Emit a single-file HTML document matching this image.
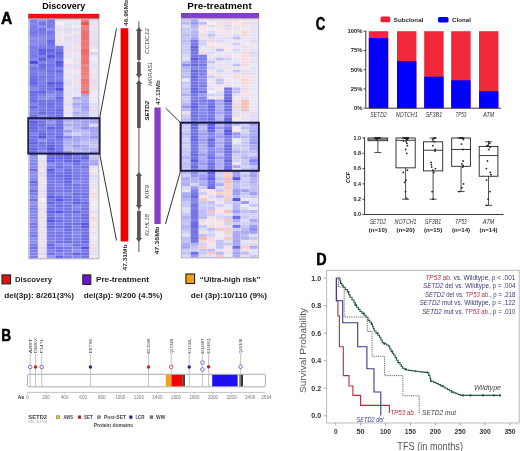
<!DOCTYPE html>
<html><head><meta charset="utf-8"><style>
html,body{margin:0;padding:0;background:#fff;}
body{width:520px;height:451px;overflow:hidden;}
svg{display:block;filter:blur(0.45px);font-family:"Liberation Sans", sans-serif;}
</style></head><body>
<svg width="520" height="451" viewBox="0 0 520 451">
<defs><filter id="soft" x="-5%" y="-5%" width="110%" height="110%"><feGaussianBlur stdDeviation="0.45"/></filter></defs>
<rect x="0" y="0" width="520" height="451" fill="#fff"/>
<text x="1.10" y="24.10" font-size="17.2" fill="#000" font-weight="bold" textLength="11.30" lengthAdjust="spacingAndGlyphs" stroke="#000" stroke-width="0.5">A</text>
<text x="42.20" y="8.70" font-size="9" fill="#000" font-weight="bold" textLength="43.00" lengthAdjust="spacingAndGlyphs">Discovery</text>
<rect x="28.20" y="13.80" width="71.00" height="5.20" fill="#e8141c"/>
<g filter="url(#soft)">
<rect x="29.50" y="19.00" width="8.61" height="3.04" fill="#7f7feb"/>
<rect x="29.50" y="21.99" width="8.61" height="3.04" fill="#8787eb"/>
<rect x="29.50" y="24.99" width="8.61" height="3.04" fill="#7f7feb"/>
<rect x="29.50" y="27.98" width="8.61" height="3.04" fill="#7e7eeb"/>
<rect x="29.50" y="30.98" width="8.61" height="3.04" fill="#7777eb"/>
<rect x="29.50" y="33.97" width="8.61" height="3.04" fill="#7f7feb"/>
<rect x="29.50" y="36.96" width="8.61" height="3.04" fill="#8e8eeb"/>
<rect x="29.50" y="39.96" width="8.61" height="3.04" fill="#8686eb"/>
<rect x="29.50" y="42.95" width="8.61" height="3.04" fill="#8d8deb"/>
<rect x="29.50" y="45.94" width="8.61" height="3.04" fill="#7878e8"/>
<rect x="29.50" y="48.94" width="8.61" height="3.04" fill="#8080eb"/>
<rect x="29.50" y="51.93" width="8.61" height="3.04" fill="#7c7cea"/>
<rect x="29.50" y="54.92" width="8.61" height="3.04" fill="#7878e8"/>
<rect x="29.50" y="57.92" width="8.61" height="3.04" fill="#8686ed"/>
<rect x="29.50" y="60.91" width="8.61" height="3.04" fill="#4a4adf"/>
<rect x="29.50" y="63.91" width="8.61" height="3.04" fill="#8989ee"/>
<rect x="29.50" y="66.90" width="8.61" height="3.04" fill="#7474e7"/>
<rect x="29.50" y="69.89" width="8.61" height="3.04" fill="#7c7cea"/>
<rect x="29.50" y="72.89" width="8.61" height="3.04" fill="#7979e9"/>
<rect x="29.50" y="75.88" width="8.61" height="3.04" fill="#6f6fe5"/>
<rect x="29.50" y="78.88" width="8.61" height="3.04" fill="#6b6be4"/>
<rect x="29.50" y="81.87" width="8.61" height="3.04" fill="#6363eb"/>
<rect x="29.50" y="84.86" width="8.61" height="3.04" fill="#7a7ae9"/>
<rect x="29.50" y="87.86" width="8.61" height="3.04" fill="#8787ed"/>
<rect x="29.50" y="90.85" width="8.61" height="3.04" fill="#6a6ae4"/>
<rect x="29.50" y="93.84" width="8.61" height="3.04" fill="#6f6fe5"/>
<rect x="29.50" y="96.84" width="8.61" height="3.04" fill="#7373e7"/>
<rect x="29.50" y="99.83" width="8.61" height="3.04" fill="#6d6de5"/>
<rect x="29.50" y="102.83" width="8.61" height="3.04" fill="#8383ec"/>
<rect x="29.50" y="105.82" width="8.61" height="3.04" fill="#6868e3"/>
<rect x="29.50" y="108.81" width="8.61" height="3.04" fill="#7f7feb"/>
<rect x="29.50" y="111.81" width="8.61" height="3.04" fill="#7e7eea"/>
<rect x="29.50" y="114.80" width="8.61" height="3.04" fill="#7272e6"/>
<rect x="29.50" y="117.79" width="8.61" height="3.04" fill="#7676e8"/>
<rect x="29.50" y="120.79" width="8.61" height="3.04" fill="#6060e0"/>
<rect x="29.50" y="123.78" width="8.61" height="3.04" fill="#6b6be4"/>
<rect x="29.50" y="126.77" width="8.61" height="3.04" fill="#6868e3"/>
<rect x="29.50" y="129.77" width="8.61" height="3.04" fill="#6d6de5"/>
<rect x="29.50" y="132.76" width="8.61" height="3.04" fill="#8282ec"/>
<rect x="29.50" y="135.76" width="8.61" height="3.04" fill="#7171e6"/>
<rect x="29.50" y="138.75" width="8.61" height="3.04" fill="#7070e6"/>
<rect x="29.50" y="141.74" width="8.61" height="3.04" fill="#6565e2"/>
<rect x="29.50" y="144.74" width="8.61" height="3.04" fill="#7373e7"/>
<rect x="29.50" y="147.73" width="8.61" height="3.04" fill="#6363eb"/>
<rect x="29.50" y="150.72" width="8.61" height="3.04" fill="#6e6ee5"/>
<rect x="29.50" y="153.72" width="8.61" height="3.04" fill="#8383eb"/>
<rect x="29.50" y="156.71" width="8.61" height="3.04" fill="#9393eb"/>
<rect x="29.50" y="159.71" width="8.61" height="3.04" fill="#8888eb"/>
<rect x="29.50" y="162.70" width="8.61" height="3.04" fill="#8787eb"/>
<rect x="29.50" y="165.69" width="8.61" height="3.04" fill="#8888eb"/>
<rect x="29.50" y="168.69" width="8.61" height="3.04" fill="#7070eb"/>
<rect x="29.50" y="171.68" width="8.61" height="3.04" fill="#9090eb"/>
<rect x="29.50" y="174.67" width="8.61" height="3.04" fill="#8c8ceb"/>
<rect x="29.50" y="177.67" width="8.61" height="3.04" fill="#8787eb"/>
<rect x="29.50" y="180.66" width="8.61" height="3.04" fill="#6c6ceb"/>
<rect x="29.50" y="183.66" width="8.61" height="3.04" fill="#7b7beb"/>
<rect x="29.50" y="186.65" width="8.61" height="3.04" fill="#8b8beb"/>
<rect x="29.50" y="189.64" width="8.61" height="3.04" fill="#6e6eeb"/>
<rect x="29.50" y="192.64" width="8.61" height="3.04" fill="#7f7feb"/>
<rect x="29.50" y="195.63" width="8.61" height="3.04" fill="#8d8deb"/>
<rect x="29.50" y="198.62" width="8.61" height="3.04" fill="#7373eb"/>
<rect x="29.50" y="201.62" width="8.61" height="3.04" fill="#9393eb"/>
<rect x="29.50" y="204.61" width="8.61" height="3.04" fill="#8888eb"/>
<rect x="29.50" y="207.61" width="8.61" height="3.04" fill="#8080eb"/>
<rect x="29.50" y="210.60" width="8.61" height="3.04" fill="#8585eb"/>
<rect x="29.50" y="213.59" width="8.61" height="3.04" fill="#8989eb"/>
<rect x="29.50" y="216.59" width="8.61" height="3.04" fill="#8383eb"/>
<rect x="29.50" y="219.58" width="8.61" height="3.04" fill="#8e8eeb"/>
<rect x="29.50" y="222.57" width="8.61" height="3.04" fill="#7a7aeb"/>
<rect x="29.50" y="225.57" width="8.61" height="3.04" fill="#7d7deb"/>
<rect x="29.50" y="228.56" width="8.61" height="3.04" fill="#8d8deb"/>
<rect x="29.50" y="231.56" width="8.61" height="3.04" fill="#8282eb"/>
<rect x="29.50" y="234.55" width="8.61" height="3.04" fill="#7878eb"/>
<rect x="29.50" y="237.54" width="8.61" height="3.04" fill="#8c8ceb"/>
<rect x="29.50" y="240.54" width="8.61" height="3.04" fill="#9292eb"/>
<rect x="29.50" y="243.53" width="8.61" height="3.04" fill="#7d7deb"/>
<rect x="29.50" y="246.53" width="8.61" height="3.04" fill="#7272eb"/>
<rect x="29.50" y="249.52" width="8.61" height="3.04" fill="#8080eb"/>
<rect x="29.50" y="252.51" width="8.61" height="3.04" fill="#8080eb"/>
<rect x="29.50" y="255.51" width="8.61" height="3.04" fill="#7e7eeb"/>
<rect x="38.06" y="19.00" width="8.61" height="3.04" fill="#9191eb"/>
<rect x="38.06" y="21.99" width="8.61" height="3.04" fill="#7676eb"/>
<rect x="38.06" y="24.99" width="8.61" height="3.04" fill="#8f8feb"/>
<rect x="38.06" y="27.98" width="8.61" height="3.04" fill="#7474eb"/>
<rect x="38.06" y="30.98" width="8.61" height="3.04" fill="#7979eb"/>
<rect x="38.06" y="33.97" width="8.61" height="3.04" fill="#8888eb"/>
<rect x="38.06" y="36.96" width="8.61" height="3.04" fill="#8e8eeb"/>
<rect x="38.06" y="39.96" width="8.61" height="3.04" fill="#8b8beb"/>
<rect x="38.06" y="42.95" width="8.61" height="3.04" fill="#8585eb"/>
<rect x="38.06" y="45.94" width="8.61" height="3.04" fill="#7777e8"/>
<rect x="38.06" y="48.94" width="8.61" height="3.04" fill="#5f5fe9"/>
<rect x="38.06" y="51.93" width="8.61" height="3.04" fill="#6262eb"/>
<rect x="38.06" y="54.92" width="8.61" height="3.04" fill="#7979e9"/>
<rect x="38.06" y="57.92" width="8.61" height="3.04" fill="#5f5fe9"/>
<rect x="38.06" y="60.91" width="8.61" height="3.04" fill="#8181eb"/>
<rect x="38.06" y="63.91" width="8.61" height="3.04" fill="#6a6ae4"/>
<rect x="38.06" y="66.90" width="8.61" height="3.04" fill="#6f6fe5"/>
<rect x="38.06" y="69.89" width="8.61" height="3.04" fill="#7f7feb"/>
<rect x="38.06" y="72.89" width="8.61" height="3.04" fill="#8383ec"/>
<rect x="38.06" y="75.88" width="8.61" height="3.04" fill="#7575e7"/>
<rect x="38.06" y="78.88" width="8.61" height="3.04" fill="#7e7eea"/>
<rect x="38.06" y="81.87" width="8.61" height="3.04" fill="#7c7cea"/>
<rect x="38.06" y="84.86" width="8.61" height="3.04" fill="#7777e8"/>
<rect x="38.06" y="87.86" width="8.61" height="3.04" fill="#7878e8"/>
<rect x="38.06" y="90.85" width="8.61" height="3.04" fill="#6262eb"/>
<rect x="38.06" y="93.84" width="8.61" height="3.04" fill="#8181eb"/>
<rect x="38.06" y="96.84" width="8.61" height="3.04" fill="#8d8def"/>
<rect x="38.06" y="99.83" width="8.61" height="3.04" fill="#7272e6"/>
<rect x="38.06" y="102.83" width="8.61" height="3.04" fill="#7171e6"/>
<rect x="38.06" y="105.82" width="8.61" height="3.04" fill="#7b7be9"/>
<rect x="38.06" y="108.81" width="8.61" height="3.04" fill="#7777e8"/>
<rect x="38.06" y="111.81" width="8.61" height="3.04" fill="#6b6be4"/>
<rect x="38.06" y="114.80" width="8.61" height="3.04" fill="#8d8def"/>
<rect x="38.06" y="117.79" width="8.61" height="3.04" fill="#7373e7"/>
<rect x="38.06" y="120.79" width="8.61" height="3.04" fill="#7575e7"/>
<rect x="38.06" y="123.78" width="8.61" height="3.04" fill="#6d6de5"/>
<rect x="38.06" y="126.77" width="8.61" height="3.04" fill="#7878e8"/>
<rect x="38.06" y="129.77" width="8.61" height="3.04" fill="#7676e8"/>
<rect x="38.06" y="132.76" width="8.61" height="3.04" fill="#6b6be4"/>
<rect x="38.06" y="135.76" width="8.61" height="3.04" fill="#5959de"/>
<rect x="38.06" y="138.75" width="8.61" height="3.04" fill="#9393f1"/>
<rect x="38.06" y="141.74" width="8.61" height="3.04" fill="#7373e7"/>
<rect x="38.06" y="144.74" width="8.61" height="3.04" fill="#7777e8"/>
<rect x="38.06" y="147.73" width="8.61" height="3.04" fill="#7d7dea"/>
<rect x="38.06" y="150.72" width="8.61" height="3.04" fill="#8888ee"/>
<rect x="38.06" y="153.72" width="8.61" height="3.04" fill="#e0dcf4"/>
<rect x="38.06" y="156.71" width="8.61" height="3.04" fill="#e6e2f4"/>
<rect x="38.06" y="159.71" width="8.61" height="3.04" fill="#e3dff4"/>
<rect x="38.06" y="162.70" width="8.61" height="3.04" fill="#e7e3f4"/>
<rect x="38.06" y="165.69" width="8.61" height="3.04" fill="#f0d9ea"/>
<rect x="38.06" y="168.69" width="8.61" height="3.04" fill="#e7e3f4"/>
<rect x="38.06" y="171.68" width="8.61" height="3.04" fill="#e1ddf4"/>
<rect x="38.06" y="174.67" width="8.61" height="3.04" fill="#e1ddf4"/>
<rect x="38.06" y="177.67" width="8.61" height="3.04" fill="#e9e5f4"/>
<rect x="38.06" y="180.66" width="8.61" height="3.04" fill="#f0e3ea"/>
<rect x="38.06" y="183.66" width="8.61" height="3.04" fill="#e8e4f4"/>
<rect x="38.06" y="186.65" width="8.61" height="3.04" fill="#e6e2f4"/>
<rect x="38.06" y="189.64" width="8.61" height="3.04" fill="#e3dff4"/>
<rect x="38.06" y="192.64" width="8.61" height="3.04" fill="#e3dff4"/>
<rect x="38.06" y="195.63" width="8.61" height="3.04" fill="#f0deea"/>
<rect x="38.06" y="198.62" width="8.61" height="3.04" fill="#f3eff4"/>
<rect x="38.06" y="201.62" width="8.61" height="3.04" fill="#e7e3f4"/>
<rect x="38.06" y="204.61" width="8.61" height="3.04" fill="#eae6f4"/>
<rect x="38.06" y="207.61" width="8.61" height="3.04" fill="#e3dff4"/>
<rect x="38.06" y="210.60" width="8.61" height="3.04" fill="#e6e2f4"/>
<rect x="38.06" y="213.59" width="8.61" height="3.04" fill="#f0e5ea"/>
<rect x="38.06" y="216.59" width="8.61" height="3.04" fill="#e2def4"/>
<rect x="38.06" y="219.58" width="8.61" height="3.04" fill="#f0dfea"/>
<rect x="38.06" y="222.57" width="8.61" height="3.04" fill="#e9e5f4"/>
<rect x="38.06" y="225.57" width="8.61" height="3.04" fill="#e3dff4"/>
<rect x="38.06" y="228.56" width="8.61" height="3.04" fill="#eae6f4"/>
<rect x="38.06" y="231.56" width="8.61" height="3.04" fill="#e3dff4"/>
<rect x="38.06" y="234.55" width="8.61" height="3.04" fill="#f0dcea"/>
<rect x="38.06" y="237.54" width="8.61" height="3.04" fill="#e4e0f4"/>
<rect x="38.06" y="240.54" width="8.61" height="3.04" fill="#e6e2f4"/>
<rect x="38.06" y="243.53" width="8.61" height="3.04" fill="#f0e2ea"/>
<rect x="38.06" y="246.53" width="8.61" height="3.04" fill="#dedaf4"/>
<rect x="38.06" y="249.52" width="8.61" height="3.04" fill="#e7e3f4"/>
<rect x="38.06" y="252.51" width="8.61" height="3.04" fill="#dfdbf4"/>
<rect x="38.06" y="255.51" width="8.61" height="3.04" fill="#f0e1ea"/>
<rect x="46.62" y="19.00" width="8.61" height="3.04" fill="#7a7aeb"/>
<rect x="46.62" y="21.99" width="8.61" height="3.04" fill="#7e7eeb"/>
<rect x="46.62" y="24.99" width="8.61" height="3.04" fill="#7e7eeb"/>
<rect x="46.62" y="27.98" width="8.61" height="3.04" fill="#9494eb"/>
<rect x="46.62" y="30.98" width="8.61" height="3.04" fill="#7373eb"/>
<rect x="46.62" y="33.97" width="8.61" height="3.04" fill="#8181eb"/>
<rect x="46.62" y="36.96" width="8.61" height="3.04" fill="#8383eb"/>
<rect x="46.62" y="39.96" width="8.61" height="3.04" fill="#6969eb"/>
<rect x="46.62" y="42.95" width="8.61" height="3.04" fill="#7373eb"/>
<rect x="46.62" y="45.94" width="8.61" height="3.04" fill="#7b7be9"/>
<rect x="46.62" y="48.94" width="8.61" height="3.04" fill="#6363e1"/>
<rect x="46.62" y="51.93" width="8.61" height="3.04" fill="#7474e7"/>
<rect x="46.62" y="54.92" width="8.61" height="3.04" fill="#5959de"/>
<rect x="46.62" y="57.92" width="8.61" height="3.04" fill="#7979e9"/>
<rect x="46.62" y="60.91" width="8.61" height="3.04" fill="#7e7eea"/>
<rect x="46.62" y="63.91" width="8.61" height="3.04" fill="#7272e6"/>
<rect x="46.62" y="66.90" width="8.61" height="3.04" fill="#7979e9"/>
<rect x="46.62" y="69.89" width="8.61" height="3.04" fill="#7070e6"/>
<rect x="46.62" y="72.89" width="8.61" height="3.04" fill="#7d7dea"/>
<rect x="46.62" y="75.88" width="8.61" height="3.04" fill="#7979e9"/>
<rect x="46.62" y="78.88" width="8.61" height="3.04" fill="#7b7be9"/>
<rect x="46.62" y="81.87" width="8.61" height="3.04" fill="#5c5cdf"/>
<rect x="46.62" y="84.86" width="8.61" height="3.04" fill="#7272e6"/>
<rect x="46.62" y="87.86" width="8.61" height="3.04" fill="#7070e6"/>
<rect x="46.62" y="90.85" width="8.61" height="3.04" fill="#7b7be9"/>
<rect x="46.62" y="93.84" width="8.61" height="3.04" fill="#9393f1"/>
<rect x="46.62" y="96.84" width="8.61" height="3.04" fill="#8c8cef"/>
<rect x="46.62" y="99.83" width="8.61" height="3.04" fill="#7474e7"/>
<rect x="46.62" y="102.83" width="8.61" height="3.04" fill="#6b6be4"/>
<rect x="46.62" y="105.82" width="8.61" height="3.04" fill="#7474e7"/>
<rect x="46.62" y="108.81" width="8.61" height="3.04" fill="#7575e7"/>
<rect x="46.62" y="111.81" width="8.61" height="3.04" fill="#7373e7"/>
<rect x="46.62" y="114.80" width="8.61" height="3.04" fill="#8080eb"/>
<rect x="46.62" y="117.79" width="8.61" height="3.04" fill="#7777e8"/>
<rect x="46.62" y="120.79" width="8.61" height="3.04" fill="#9696f2"/>
<rect x="46.62" y="123.78" width="8.61" height="3.04" fill="#8383ec"/>
<rect x="46.62" y="126.77" width="8.61" height="3.04" fill="#6060ea"/>
<rect x="46.62" y="129.77" width="8.61" height="3.04" fill="#7b7be9"/>
<rect x="46.62" y="132.76" width="8.61" height="3.04" fill="#7575e7"/>
<rect x="46.62" y="135.76" width="8.61" height="3.04" fill="#7c7cea"/>
<rect x="46.62" y="138.75" width="8.61" height="3.04" fill="#7979e9"/>
<rect x="46.62" y="141.74" width="8.61" height="3.04" fill="#6d6de5"/>
<rect x="46.62" y="144.74" width="8.61" height="3.04" fill="#6565e2"/>
<rect x="46.62" y="147.73" width="8.61" height="3.04" fill="#5656e5"/>
<rect x="46.62" y="150.72" width="8.61" height="3.04" fill="#7171e6"/>
<rect x="46.62" y="153.72" width="8.61" height="3.04" fill="#6a6ae4"/>
<rect x="46.62" y="156.71" width="8.61" height="3.04" fill="#6767e3"/>
<rect x="46.62" y="159.71" width="8.61" height="3.04" fill="#6565e2"/>
<rect x="46.62" y="162.70" width="8.61" height="3.04" fill="#8b8bef"/>
<rect x="46.62" y="165.69" width="8.61" height="3.04" fill="#7f7feb"/>
<rect x="46.62" y="168.69" width="8.61" height="3.04" fill="#5c5cdf"/>
<rect x="46.62" y="171.68" width="8.61" height="3.04" fill="#6d6de5"/>
<rect x="46.62" y="174.67" width="8.61" height="3.04" fill="#6d6de5"/>
<rect x="46.62" y="177.67" width="8.61" height="3.04" fill="#7474e7"/>
<rect x="46.62" y="180.66" width="8.61" height="3.04" fill="#7d7dea"/>
<rect x="46.62" y="183.66" width="8.61" height="3.04" fill="#7878e8"/>
<rect x="46.62" y="186.65" width="8.61" height="3.04" fill="#7676e8"/>
<rect x="46.62" y="189.64" width="8.61" height="3.04" fill="#6c6ce4"/>
<rect x="46.62" y="192.64" width="8.61" height="3.04" fill="#7474e7"/>
<rect x="46.62" y="195.63" width="8.61" height="3.04" fill="#5d5de8"/>
<rect x="46.62" y="198.62" width="8.61" height="3.04" fill="#7474e7"/>
<rect x="46.62" y="201.62" width="8.61" height="3.04" fill="#6666e2"/>
<rect x="46.62" y="204.61" width="8.61" height="3.04" fill="#7b7be9"/>
<rect x="46.62" y="207.61" width="8.61" height="3.04" fill="#7373e7"/>
<rect x="46.62" y="210.60" width="8.61" height="3.04" fill="#5f5fe0"/>
<rect x="46.62" y="213.59" width="8.61" height="3.04" fill="#7676e8"/>
<rect x="46.62" y="216.59" width="8.61" height="3.04" fill="#6868e3"/>
<rect x="46.62" y="219.58" width="8.61" height="3.04" fill="#5656dd"/>
<rect x="46.62" y="222.57" width="8.61" height="3.04" fill="#7171e6"/>
<rect x="46.62" y="225.57" width="8.61" height="3.04" fill="#6565e2"/>
<rect x="46.62" y="228.56" width="8.61" height="3.04" fill="#7b7be9"/>
<rect x="46.62" y="231.56" width="8.61" height="3.04" fill="#7878e8"/>
<rect x="46.62" y="234.55" width="8.61" height="3.04" fill="#7575e7"/>
<rect x="46.62" y="237.54" width="8.61" height="3.04" fill="#7d7dea"/>
<rect x="46.62" y="240.54" width="8.61" height="3.04" fill="#8282ec"/>
<rect x="46.62" y="243.53" width="8.61" height="3.04" fill="#6969e3"/>
<rect x="46.62" y="246.53" width="8.61" height="3.04" fill="#7272e6"/>
<rect x="46.62" y="249.52" width="8.61" height="3.04" fill="#8282ec"/>
<rect x="46.62" y="252.51" width="8.61" height="3.04" fill="#7373e7"/>
<rect x="46.62" y="255.51" width="8.61" height="3.04" fill="#9494f2"/>
<rect x="55.19" y="19.00" width="8.61" height="3.04" fill="#e6e2f4"/>
<rect x="55.19" y="21.99" width="8.61" height="3.04" fill="#f2eef4"/>
<rect x="55.19" y="24.99" width="8.61" height="3.04" fill="#eae6f4"/>
<rect x="55.19" y="27.98" width="8.61" height="3.04" fill="#e6e2f4"/>
<rect x="55.19" y="30.98" width="8.61" height="3.04" fill="#f0e3ea"/>
<rect x="55.19" y="33.97" width="8.61" height="3.04" fill="#ebe7f4"/>
<rect x="55.19" y="36.96" width="8.61" height="3.04" fill="#f0e6ea"/>
<rect x="55.19" y="39.96" width="8.61" height="3.04" fill="#f0e4ea"/>
<rect x="55.19" y="42.95" width="8.61" height="3.04" fill="#e4e0f4"/>
<rect x="55.19" y="45.94" width="8.61" height="3.04" fill="#7e7eea"/>
<rect x="55.19" y="48.94" width="8.61" height="3.04" fill="#7676e8"/>
<rect x="55.19" y="51.93" width="8.61" height="3.04" fill="#6464e2"/>
<rect x="55.19" y="54.92" width="8.61" height="3.04" fill="#6d6de5"/>
<rect x="55.19" y="57.92" width="8.61" height="3.04" fill="#7c7cea"/>
<rect x="55.19" y="60.91" width="8.61" height="3.04" fill="#5a5ae7"/>
<rect x="55.19" y="63.91" width="8.61" height="3.04" fill="#6464e2"/>
<rect x="55.19" y="66.90" width="8.61" height="3.04" fill="#8383ec"/>
<rect x="55.19" y="69.89" width="8.61" height="3.04" fill="#6b6be4"/>
<rect x="55.19" y="72.89" width="8.61" height="3.04" fill="#7f7feb"/>
<rect x="55.19" y="75.88" width="8.61" height="3.04" fill="#8181eb"/>
<rect x="55.19" y="78.88" width="8.61" height="3.04" fill="#7d7dea"/>
<rect x="55.19" y="81.87" width="8.61" height="3.04" fill="#6060e0"/>
<rect x="55.19" y="84.86" width="8.61" height="3.04" fill="#6e6ee5"/>
<rect x="55.19" y="87.86" width="8.61" height="3.04" fill="#5050e2"/>
<rect x="55.19" y="90.85" width="8.61" height="3.04" fill="#7d7dea"/>
<rect x="55.19" y="93.84" width="8.61" height="3.04" fill="#7e7eea"/>
<rect x="55.19" y="96.84" width="8.61" height="3.04" fill="#6666e2"/>
<rect x="55.19" y="99.83" width="8.61" height="3.04" fill="#6f6fe5"/>
<rect x="55.19" y="102.83" width="8.61" height="3.04" fill="#7575e7"/>
<rect x="55.19" y="105.82" width="8.61" height="3.04" fill="#7676e8"/>
<rect x="55.19" y="108.81" width="8.61" height="3.04" fill="#6767e3"/>
<rect x="55.19" y="111.81" width="8.61" height="3.04" fill="#7575e7"/>
<rect x="55.19" y="114.80" width="8.61" height="3.04" fill="#7575e7"/>
<rect x="55.19" y="117.79" width="8.61" height="3.04" fill="#6c6ce4"/>
<rect x="55.19" y="120.79" width="8.61" height="3.04" fill="#7474e7"/>
<rect x="55.19" y="123.78" width="8.61" height="3.04" fill="#6d6de5"/>
<rect x="55.19" y="126.77" width="8.61" height="3.04" fill="#6a6ae4"/>
<rect x="55.19" y="129.77" width="8.61" height="3.04" fill="#7676e8"/>
<rect x="55.19" y="132.76" width="8.61" height="3.04" fill="#7777e8"/>
<rect x="55.19" y="135.76" width="8.61" height="3.04" fill="#6565e2"/>
<rect x="55.19" y="138.75" width="8.61" height="3.04" fill="#7b7be9"/>
<rect x="55.19" y="141.74" width="8.61" height="3.04" fill="#7d7dea"/>
<rect x="55.19" y="144.74" width="8.61" height="3.04" fill="#7474e7"/>
<rect x="55.19" y="147.73" width="8.61" height="3.04" fill="#7575e7"/>
<rect x="55.19" y="150.72" width="8.61" height="3.04" fill="#6d6de5"/>
<rect x="55.19" y="153.72" width="8.61" height="3.04" fill="#6565e2"/>
<rect x="55.19" y="156.71" width="8.61" height="3.04" fill="#6868e3"/>
<rect x="55.19" y="159.71" width="8.61" height="3.04" fill="#7474e7"/>
<rect x="55.19" y="162.70" width="8.61" height="3.04" fill="#7c7cea"/>
<rect x="55.19" y="165.69" width="8.61" height="3.04" fill="#7171e6"/>
<rect x="55.19" y="168.69" width="8.61" height="3.04" fill="#8383ec"/>
<rect x="55.19" y="171.68" width="8.61" height="3.04" fill="#7777e8"/>
<rect x="55.19" y="174.67" width="8.61" height="3.04" fill="#6c6ce4"/>
<rect x="55.19" y="177.67" width="8.61" height="3.04" fill="#7878e8"/>
<rect x="55.19" y="180.66" width="8.61" height="3.04" fill="#7979e9"/>
<rect x="55.19" y="183.66" width="8.61" height="3.04" fill="#8585ed"/>
<rect x="55.19" y="186.65" width="8.61" height="3.04" fill="#7c7cea"/>
<rect x="55.19" y="189.64" width="8.61" height="3.04" fill="#7474e7"/>
<rect x="55.19" y="192.64" width="8.61" height="3.04" fill="#8484ec"/>
<rect x="55.19" y="195.63" width="8.61" height="3.04" fill="#6969e3"/>
<rect x="55.19" y="198.62" width="8.61" height="3.04" fill="#5a5ae7"/>
<rect x="55.19" y="201.62" width="8.61" height="3.04" fill="#7676e8"/>
<rect x="55.19" y="204.61" width="8.61" height="3.04" fill="#6c6ce4"/>
<rect x="55.19" y="207.61" width="8.61" height="3.04" fill="#7979e9"/>
<rect x="55.19" y="210.60" width="8.61" height="3.04" fill="#5555e4"/>
<rect x="55.19" y="213.59" width="8.61" height="3.04" fill="#8b8bef"/>
<rect x="55.19" y="216.59" width="8.61" height="3.04" fill="#7979e9"/>
<rect x="55.19" y="219.58" width="8.61" height="3.04" fill="#7070e6"/>
<rect x="55.19" y="222.57" width="8.61" height="3.04" fill="#7e7eea"/>
<rect x="55.19" y="225.57" width="8.61" height="3.04" fill="#7070e6"/>
<rect x="55.19" y="228.56" width="8.61" height="3.04" fill="#8686ed"/>
<rect x="55.19" y="231.56" width="8.61" height="3.04" fill="#7575e7"/>
<rect x="55.19" y="234.55" width="8.61" height="3.04" fill="#7575e7"/>
<rect x="55.19" y="237.54" width="8.61" height="3.04" fill="#7979e9"/>
<rect x="55.19" y="240.54" width="8.61" height="3.04" fill="#6f6fe5"/>
<rect x="55.19" y="243.53" width="8.61" height="3.04" fill="#9191f1"/>
<rect x="55.19" y="246.53" width="8.61" height="3.04" fill="#6e6ee5"/>
<rect x="55.19" y="249.52" width="8.61" height="3.04" fill="#7575e7"/>
<rect x="55.19" y="252.51" width="8.61" height="3.04" fill="#8686ed"/>
<rect x="55.19" y="255.51" width="8.61" height="3.04" fill="#6767e3"/>
<rect x="63.75" y="19.00" width="8.61" height="3.04" fill="#ebe7f4"/>
<rect x="63.75" y="21.99" width="8.61" height="3.04" fill="#f0dfea"/>
<rect x="63.75" y="24.99" width="8.61" height="3.04" fill="#e5e1f4"/>
<rect x="63.75" y="27.98" width="8.61" height="3.04" fill="#e0dcf4"/>
<rect x="63.75" y="30.98" width="8.61" height="3.04" fill="#e5e1f4"/>
<rect x="63.75" y="33.97" width="8.61" height="3.04" fill="#f0e3ea"/>
<rect x="63.75" y="36.96" width="8.61" height="3.04" fill="#e1ddf4"/>
<rect x="63.75" y="39.96" width="8.61" height="3.04" fill="#e6e2f4"/>
<rect x="63.75" y="42.95" width="8.61" height="3.04" fill="#e9e5f4"/>
<rect x="63.75" y="45.94" width="8.61" height="3.04" fill="#e5e1f4"/>
<rect x="63.75" y="48.94" width="8.61" height="3.04" fill="#f0ddea"/>
<rect x="63.75" y="51.93" width="8.61" height="3.04" fill="#f0e0ea"/>
<rect x="63.75" y="54.92" width="8.61" height="3.04" fill="#e8e4f4"/>
<rect x="63.75" y="57.92" width="8.61" height="3.04" fill="#f0ecea"/>
<rect x="63.75" y="60.91" width="8.61" height="3.04" fill="#f3eff4"/>
<rect x="63.75" y="63.91" width="8.61" height="3.04" fill="#f0d8ea"/>
<rect x="63.75" y="66.90" width="8.61" height="3.04" fill="#e6e2f4"/>
<rect x="63.75" y="69.89" width="8.61" height="3.04" fill="#f0e4ea"/>
<rect x="63.75" y="72.89" width="8.61" height="3.04" fill="#e6e2f4"/>
<rect x="63.75" y="75.88" width="8.61" height="3.04" fill="#e9e5f4"/>
<rect x="63.75" y="78.88" width="8.61" height="3.04" fill="#e5e1f4"/>
<rect x="63.75" y="81.87" width="8.61" height="3.04" fill="#e0dcf4"/>
<rect x="63.75" y="84.86" width="8.61" height="3.04" fill="#f0deea"/>
<rect x="63.75" y="87.86" width="8.61" height="3.04" fill="#e9e5f4"/>
<rect x="63.75" y="90.85" width="8.61" height="3.04" fill="#e8e4f4"/>
<rect x="63.75" y="93.84" width="8.61" height="3.04" fill="#e5e1f4"/>
<rect x="63.75" y="96.84" width="8.61" height="3.04" fill="#e8e4f4"/>
<rect x="63.75" y="99.83" width="8.61" height="3.04" fill="#f0dfea"/>
<rect x="63.75" y="102.83" width="8.61" height="3.04" fill="#e1ddf4"/>
<rect x="63.75" y="105.82" width="8.61" height="3.04" fill="#e9e5f4"/>
<rect x="63.75" y="108.81" width="8.61" height="3.04" fill="#f0e2ea"/>
<rect x="63.75" y="111.81" width="8.61" height="3.04" fill="#e5e1f4"/>
<rect x="63.75" y="114.80" width="8.61" height="3.04" fill="#eae6f4"/>
<rect x="63.75" y="117.79" width="8.61" height="3.04" fill="#a0a0f2"/>
<rect x="63.75" y="120.79" width="8.61" height="3.04" fill="#bbbbf2"/>
<rect x="63.75" y="123.78" width="8.61" height="3.04" fill="#acacf2"/>
<rect x="63.75" y="126.77" width="8.61" height="3.04" fill="#c6c6f2"/>
<rect x="63.75" y="129.77" width="8.61" height="3.04" fill="#9e9ef2"/>
<rect x="63.75" y="132.76" width="8.61" height="3.04" fill="#c6c6f2"/>
<rect x="63.75" y="135.76" width="8.61" height="3.04" fill="#8a8af2"/>
<rect x="63.75" y="138.75" width="8.61" height="3.04" fill="#acacf2"/>
<rect x="63.75" y="141.74" width="8.61" height="3.04" fill="#b3b3f2"/>
<rect x="63.75" y="144.74" width="8.61" height="3.04" fill="#b6b6f2"/>
<rect x="63.75" y="147.73" width="8.61" height="3.04" fill="#bcbcf2"/>
<rect x="63.75" y="150.72" width="8.61" height="3.04" fill="#9c9cf2"/>
<rect x="63.75" y="153.72" width="8.61" height="3.04" fill="#5b5bdf"/>
<rect x="63.75" y="156.71" width="8.61" height="3.04" fill="#6969e3"/>
<rect x="63.75" y="159.71" width="8.61" height="3.04" fill="#6565e2"/>
<rect x="63.75" y="162.70" width="8.61" height="3.04" fill="#8a8aee"/>
<rect x="63.75" y="165.69" width="8.61" height="3.04" fill="#7b7be9"/>
<rect x="63.75" y="168.69" width="8.61" height="3.04" fill="#6f6fe5"/>
<rect x="63.75" y="171.68" width="8.61" height="3.04" fill="#6d6de5"/>
<rect x="63.75" y="174.67" width="8.61" height="3.04" fill="#6969e3"/>
<rect x="63.75" y="177.67" width="8.61" height="3.04" fill="#6767e3"/>
<rect x="63.75" y="180.66" width="8.61" height="3.04" fill="#6666e2"/>
<rect x="63.75" y="183.66" width="8.61" height="3.04" fill="#7373e7"/>
<rect x="63.75" y="186.65" width="8.61" height="3.04" fill="#7474e7"/>
<rect x="63.75" y="189.64" width="8.61" height="3.04" fill="#7474e7"/>
<rect x="63.75" y="192.64" width="8.61" height="3.04" fill="#8686ed"/>
<rect x="63.75" y="195.63" width="8.61" height="3.04" fill="#7171e6"/>
<rect x="63.75" y="198.62" width="8.61" height="3.04" fill="#7676e8"/>
<rect x="63.75" y="201.62" width="8.61" height="3.04" fill="#7e7eea"/>
<rect x="63.75" y="204.61" width="8.61" height="3.04" fill="#7575e7"/>
<rect x="63.75" y="207.61" width="8.61" height="3.04" fill="#7878e8"/>
<rect x="63.75" y="210.60" width="8.61" height="3.04" fill="#6d6de5"/>
<rect x="63.75" y="213.59" width="8.61" height="3.04" fill="#7a7ae9"/>
<rect x="63.75" y="216.59" width="8.61" height="3.04" fill="#7676e8"/>
<rect x="63.75" y="219.58" width="8.61" height="3.04" fill="#7979e9"/>
<rect x="63.75" y="222.57" width="8.61" height="3.04" fill="#7272e6"/>
<rect x="63.75" y="225.57" width="8.61" height="3.04" fill="#6e6ee5"/>
<rect x="63.75" y="228.56" width="8.61" height="3.04" fill="#6d6de5"/>
<rect x="63.75" y="231.56" width="8.61" height="3.04" fill="#7575e7"/>
<rect x="63.75" y="234.55" width="8.61" height="3.04" fill="#7979e9"/>
<rect x="63.75" y="237.54" width="8.61" height="3.04" fill="#6e6ee5"/>
<rect x="63.75" y="240.54" width="8.61" height="3.04" fill="#6d6de5"/>
<rect x="63.75" y="243.53" width="8.61" height="3.04" fill="#9292f1"/>
<rect x="63.75" y="246.53" width="8.61" height="3.04" fill="#7878e8"/>
<rect x="63.75" y="249.52" width="8.61" height="3.04" fill="#8282ec"/>
<rect x="63.75" y="252.51" width="8.61" height="3.04" fill="#7d7dea"/>
<rect x="63.75" y="255.51" width="8.61" height="3.04" fill="#7f7feb"/>
<rect x="72.31" y="19.00" width="8.61" height="3.04" fill="#f0e3ea"/>
<rect x="72.31" y="21.99" width="8.61" height="3.04" fill="#e7e3f4"/>
<rect x="72.31" y="24.99" width="8.61" height="3.04" fill="#eeeaf4"/>
<rect x="72.31" y="27.98" width="8.61" height="3.04" fill="#dfdbf4"/>
<rect x="72.31" y="30.98" width="8.61" height="3.04" fill="#f0e6ea"/>
<rect x="72.31" y="33.97" width="8.61" height="3.04" fill="#e4e0f4"/>
<rect x="72.31" y="36.96" width="8.61" height="3.04" fill="#e5e1f4"/>
<rect x="72.31" y="39.96" width="8.61" height="3.04" fill="#e4e0f4"/>
<rect x="72.31" y="42.95" width="8.61" height="3.04" fill="#f0deea"/>
<rect x="72.31" y="45.94" width="8.61" height="3.04" fill="#f0e5ea"/>
<rect x="72.31" y="48.94" width="8.61" height="3.04" fill="#e5e1f4"/>
<rect x="72.31" y="51.93" width="8.61" height="3.04" fill="#f0e6ea"/>
<rect x="72.31" y="54.92" width="8.61" height="3.04" fill="#e9e5f4"/>
<rect x="72.31" y="57.92" width="8.61" height="3.04" fill="#e5e1f4"/>
<rect x="72.31" y="60.91" width="8.61" height="3.04" fill="#f0e4ea"/>
<rect x="72.31" y="63.91" width="8.61" height="3.04" fill="#e1ddf4"/>
<rect x="72.31" y="66.90" width="8.61" height="3.04" fill="#f0daea"/>
<rect x="72.31" y="69.89" width="8.61" height="3.04" fill="#eeeaf4"/>
<rect x="72.31" y="72.89" width="8.61" height="3.04" fill="#e6e2f4"/>
<rect x="72.31" y="75.88" width="8.61" height="3.04" fill="#e5e1f4"/>
<rect x="72.31" y="78.88" width="8.61" height="3.04" fill="#f0e2ea"/>
<rect x="72.31" y="81.87" width="8.61" height="3.04" fill="#f0e0ea"/>
<rect x="72.31" y="84.86" width="8.61" height="3.04" fill="#e9e5f4"/>
<rect x="72.31" y="87.86" width="8.61" height="3.04" fill="#e4e0f4"/>
<rect x="72.31" y="90.85" width="8.61" height="3.04" fill="#e3dff4"/>
<rect x="72.31" y="93.84" width="8.61" height="3.04" fill="#e9e5f4"/>
<rect x="72.31" y="96.84" width="8.61" height="3.04" fill="#aaaaf2"/>
<rect x="72.31" y="99.83" width="8.61" height="3.04" fill="#c5c5f2"/>
<rect x="72.31" y="102.83" width="8.61" height="3.04" fill="#a6a6f2"/>
<rect x="72.31" y="105.82" width="8.61" height="3.04" fill="#b7b7f2"/>
<rect x="72.31" y="108.81" width="8.61" height="3.04" fill="#c6c6f2"/>
<rect x="72.31" y="111.81" width="8.61" height="3.04" fill="#acacf2"/>
<rect x="72.31" y="114.80" width="8.61" height="3.04" fill="#bfbff2"/>
<rect x="72.31" y="117.79" width="8.61" height="3.04" fill="#a0a0f2"/>
<rect x="72.31" y="120.79" width="8.61" height="3.04" fill="#afaff2"/>
<rect x="72.31" y="123.78" width="8.61" height="3.04" fill="#aaaaf2"/>
<rect x="72.31" y="126.77" width="8.61" height="3.04" fill="#adadf2"/>
<rect x="72.31" y="129.77" width="8.61" height="3.04" fill="#bebef2"/>
<rect x="72.31" y="132.76" width="8.61" height="3.04" fill="#d2d2f2"/>
<rect x="72.31" y="135.76" width="8.61" height="3.04" fill="#a1a1f2"/>
<rect x="72.31" y="138.75" width="8.61" height="3.04" fill="#a2a2f2"/>
<rect x="72.31" y="141.74" width="8.61" height="3.04" fill="#b3b3f2"/>
<rect x="72.31" y="144.74" width="8.61" height="3.04" fill="#9b9bf2"/>
<rect x="72.31" y="147.73" width="8.61" height="3.04" fill="#b3b3f2"/>
<rect x="72.31" y="150.72" width="8.61" height="3.04" fill="#b5b5f2"/>
<rect x="72.31" y="153.72" width="8.61" height="3.04" fill="#7272e6"/>
<rect x="72.31" y="156.71" width="8.61" height="3.04" fill="#7474e7"/>
<rect x="72.31" y="159.71" width="8.61" height="3.04" fill="#5f5fe0"/>
<rect x="72.31" y="162.70" width="8.61" height="3.04" fill="#7171e6"/>
<rect x="72.31" y="165.69" width="8.61" height="3.04" fill="#7f7feb"/>
<rect x="72.31" y="168.69" width="8.61" height="3.04" fill="#7c7cea"/>
<rect x="72.31" y="171.68" width="8.61" height="3.04" fill="#7979e9"/>
<rect x="72.31" y="174.67" width="8.61" height="3.04" fill="#7878e8"/>
<rect x="72.31" y="177.67" width="8.61" height="3.04" fill="#7777e8"/>
<rect x="72.31" y="180.66" width="8.61" height="3.04" fill="#8e8ef0"/>
<rect x="72.31" y="183.66" width="8.61" height="3.04" fill="#7272e6"/>
<rect x="72.31" y="186.65" width="8.61" height="3.04" fill="#7a7ae9"/>
<rect x="72.31" y="189.64" width="8.61" height="3.04" fill="#7878e8"/>
<rect x="72.31" y="192.64" width="8.61" height="3.04" fill="#6d6de5"/>
<rect x="72.31" y="195.63" width="8.61" height="3.04" fill="#7878e8"/>
<rect x="72.31" y="198.62" width="8.61" height="3.04" fill="#6c6ce4"/>
<rect x="72.31" y="201.62" width="8.61" height="3.04" fill="#6464e2"/>
<rect x="72.31" y="204.61" width="8.61" height="3.04" fill="#8686ed"/>
<rect x="72.31" y="207.61" width="8.61" height="3.04" fill="#8585ed"/>
<rect x="72.31" y="210.60" width="8.61" height="3.04" fill="#6868e3"/>
<rect x="72.31" y="213.59" width="8.61" height="3.04" fill="#8484ec"/>
<rect x="72.31" y="216.59" width="8.61" height="3.04" fill="#7676e8"/>
<rect x="72.31" y="219.58" width="8.61" height="3.04" fill="#7c7cea"/>
<rect x="72.31" y="222.57" width="8.61" height="3.04" fill="#7070e6"/>
<rect x="72.31" y="225.57" width="8.61" height="3.04" fill="#8080eb"/>
<rect x="72.31" y="228.56" width="8.61" height="3.04" fill="#7878e8"/>
<rect x="72.31" y="231.56" width="8.61" height="3.04" fill="#8b8bef"/>
<rect x="72.31" y="234.55" width="8.61" height="3.04" fill="#8080eb"/>
<rect x="72.31" y="237.54" width="8.61" height="3.04" fill="#7e7eea"/>
<rect x="72.31" y="240.54" width="8.61" height="3.04" fill="#7878e8"/>
<rect x="72.31" y="243.53" width="8.61" height="3.04" fill="#7474e7"/>
<rect x="72.31" y="246.53" width="8.61" height="3.04" fill="#8181eb"/>
<rect x="72.31" y="249.52" width="8.61" height="3.04" fill="#9393f1"/>
<rect x="72.31" y="252.51" width="8.61" height="3.04" fill="#6565e2"/>
<rect x="72.31" y="255.51" width="8.61" height="3.04" fill="#8787ed"/>
<rect x="80.88" y="19.00" width="8.61" height="3.04" fill="#ee7b7b"/>
<rect x="80.88" y="21.99" width="8.61" height="3.04" fill="#ee5959"/>
<rect x="80.88" y="24.99" width="8.61" height="3.04" fill="#ee8282"/>
<rect x="80.88" y="27.98" width="8.61" height="3.04" fill="#ee7f7f"/>
<rect x="80.88" y="30.98" width="8.61" height="3.04" fill="#ee6f6f"/>
<rect x="80.88" y="33.97" width="8.61" height="3.04" fill="#ee7070"/>
<rect x="80.88" y="36.96" width="8.61" height="3.04" fill="#ee7171"/>
<rect x="80.88" y="39.96" width="8.61" height="3.04" fill="#ee7a7a"/>
<rect x="80.88" y="42.95" width="8.61" height="3.04" fill="#ee7878"/>
<rect x="80.88" y="45.94" width="8.61" height="3.04" fill="#ee7e7e"/>
<rect x="80.88" y="48.94" width="8.61" height="3.04" fill="#ee6767"/>
<rect x="80.88" y="51.93" width="8.61" height="3.04" fill="#ee6b6b"/>
<rect x="80.88" y="54.92" width="8.61" height="3.04" fill="#ee7676"/>
<rect x="80.88" y="57.92" width="8.61" height="3.04" fill="#ee7777"/>
<rect x="80.88" y="60.91" width="8.61" height="3.04" fill="#ee6d6d"/>
<rect x="80.88" y="63.91" width="8.61" height="3.04" fill="#ee8585"/>
<rect x="80.88" y="66.90" width="8.61" height="3.04" fill="#ee7a7a"/>
<rect x="80.88" y="69.89" width="8.61" height="3.04" fill="#ee7f7f"/>
<rect x="80.88" y="72.89" width="8.61" height="3.04" fill="#ee7c7c"/>
<rect x="80.88" y="75.88" width="8.61" height="3.04" fill="#ee8a8a"/>
<rect x="80.88" y="78.88" width="8.61" height="3.04" fill="#ee7171"/>
<rect x="80.88" y="81.87" width="8.61" height="3.04" fill="#ee7474"/>
<rect x="80.88" y="84.86" width="8.61" height="3.04" fill="#ee7f7f"/>
<rect x="80.88" y="87.86" width="8.61" height="3.04" fill="#ee7d7d"/>
<rect x="80.88" y="90.85" width="8.61" height="3.04" fill="#ee6565"/>
<rect x="80.88" y="93.84" width="8.61" height="3.04" fill="#a4a4f2"/>
<rect x="80.88" y="96.84" width="8.61" height="3.04" fill="#b4b4f2"/>
<rect x="80.88" y="99.83" width="8.61" height="3.04" fill="#b1b1f2"/>
<rect x="80.88" y="102.83" width="8.61" height="3.04" fill="#a6a6f2"/>
<rect x="80.88" y="105.82" width="8.61" height="3.04" fill="#9c9cf2"/>
<rect x="80.88" y="108.81" width="8.61" height="3.04" fill="#a9a9f2"/>
<rect x="80.88" y="111.81" width="8.61" height="3.04" fill="#b9b9f2"/>
<rect x="80.88" y="114.80" width="8.61" height="3.04" fill="#b9b9f2"/>
<rect x="80.88" y="117.79" width="8.61" height="3.04" fill="#a7a7f2"/>
<rect x="80.88" y="120.79" width="8.61" height="3.04" fill="#9e9ef2"/>
<rect x="80.88" y="123.78" width="8.61" height="3.04" fill="#a5a5f2"/>
<rect x="80.88" y="126.77" width="8.61" height="3.04" fill="#9090f2"/>
<rect x="80.88" y="129.77" width="8.61" height="3.04" fill="#bcbcf2"/>
<rect x="80.88" y="132.76" width="8.61" height="3.04" fill="#bbbbf2"/>
<rect x="80.88" y="135.76" width="8.61" height="3.04" fill="#ababf2"/>
<rect x="80.88" y="138.75" width="8.61" height="3.04" fill="#b4b4f2"/>
<rect x="80.88" y="141.74" width="8.61" height="3.04" fill="#c4c4f2"/>
<rect x="80.88" y="144.74" width="8.61" height="3.04" fill="#acacf2"/>
<rect x="80.88" y="147.73" width="8.61" height="3.04" fill="#adadf2"/>
<rect x="80.88" y="150.72" width="8.61" height="3.04" fill="#b9b9f2"/>
<rect x="80.88" y="153.72" width="8.61" height="3.04" fill="#6e6ee5"/>
<rect x="80.88" y="156.71" width="8.61" height="3.04" fill="#6161e1"/>
<rect x="80.88" y="159.71" width="8.61" height="3.04" fill="#8383ec"/>
<rect x="80.88" y="162.70" width="8.61" height="3.04" fill="#8585ed"/>
<rect x="80.88" y="165.69" width="8.61" height="3.04" fill="#7777e8"/>
<rect x="80.88" y="168.69" width="8.61" height="3.04" fill="#8484ec"/>
<rect x="80.88" y="171.68" width="8.61" height="3.04" fill="#7e7eea"/>
<rect x="80.88" y="174.67" width="8.61" height="3.04" fill="#7b7be9"/>
<rect x="80.88" y="177.67" width="8.61" height="3.04" fill="#7d7dea"/>
<rect x="80.88" y="180.66" width="8.61" height="3.04" fill="#8080eb"/>
<rect x="80.88" y="183.66" width="8.61" height="3.04" fill="#7e7eea"/>
<rect x="80.88" y="186.65" width="8.61" height="3.04" fill="#7878e8"/>
<rect x="80.88" y="189.64" width="8.61" height="3.04" fill="#7b7be9"/>
<rect x="80.88" y="192.64" width="8.61" height="3.04" fill="#7272e6"/>
<rect x="80.88" y="195.63" width="8.61" height="3.04" fill="#7676e8"/>
<rect x="80.88" y="198.62" width="8.61" height="3.04" fill="#8383ec"/>
<rect x="80.88" y="201.62" width="8.61" height="3.04" fill="#6c6ce4"/>
<rect x="80.88" y="204.61" width="8.61" height="3.04" fill="#7777e8"/>
<rect x="80.88" y="207.61" width="8.61" height="3.04" fill="#6d6de5"/>
<rect x="80.88" y="210.60" width="8.61" height="3.04" fill="#7979e9"/>
<rect x="80.88" y="213.59" width="8.61" height="3.04" fill="#6f6fe5"/>
<rect x="80.88" y="216.59" width="8.61" height="3.04" fill="#6a6ae4"/>
<rect x="80.88" y="219.58" width="8.61" height="3.04" fill="#7474e7"/>
<rect x="80.88" y="222.57" width="8.61" height="3.04" fill="#5959e6"/>
<rect x="80.88" y="225.57" width="8.61" height="3.04" fill="#5c5cdf"/>
<rect x="80.88" y="228.56" width="8.61" height="3.04" fill="#7676e8"/>
<rect x="80.88" y="231.56" width="8.61" height="3.04" fill="#7272e6"/>
<rect x="80.88" y="234.55" width="8.61" height="3.04" fill="#6969e3"/>
<rect x="80.88" y="237.54" width="8.61" height="3.04" fill="#6d6de5"/>
<rect x="80.88" y="240.54" width="8.61" height="3.04" fill="#6868e3"/>
<rect x="80.88" y="243.53" width="8.61" height="3.04" fill="#7d7dea"/>
<rect x="80.88" y="246.53" width="8.61" height="3.04" fill="#5353e3"/>
<rect x="80.88" y="249.52" width="8.61" height="3.04" fill="#7a7ae9"/>
<rect x="80.88" y="252.51" width="8.61" height="3.04" fill="#6d6de5"/>
<rect x="80.88" y="255.51" width="8.61" height="3.04" fill="#7676e8"/>
<rect x="89.44" y="19.00" width="8.61" height="3.04" fill="#e2def4"/>
<rect x="89.44" y="21.99" width="8.61" height="3.04" fill="#f0e2ea"/>
<rect x="89.44" y="24.99" width="8.61" height="3.04" fill="#f0e5ea"/>
<rect x="89.44" y="27.98" width="8.61" height="3.04" fill="#e9e5f4"/>
<rect x="89.44" y="30.98" width="8.61" height="3.04" fill="#e4e0f4"/>
<rect x="89.44" y="33.97" width="8.61" height="3.04" fill="#f0e1ea"/>
<rect x="89.44" y="36.96" width="8.61" height="3.04" fill="#e5e1f4"/>
<rect x="89.44" y="39.96" width="8.61" height="3.04" fill="#f0d9ea"/>
<rect x="89.44" y="42.95" width="8.61" height="3.04" fill="#e1ddf4"/>
<rect x="89.44" y="45.94" width="8.61" height="3.04" fill="#f0e1ea"/>
<rect x="89.44" y="48.94" width="8.61" height="3.04" fill="#f0ecf4"/>
<rect x="89.44" y="51.93" width="8.61" height="3.04" fill="#d8d4f4"/>
<rect x="89.44" y="54.92" width="8.61" height="3.04" fill="#eae6f4"/>
<rect x="89.44" y="57.92" width="8.61" height="3.04" fill="#f3eff4"/>
<rect x="89.44" y="60.91" width="8.61" height="3.04" fill="#e8e4f4"/>
<rect x="89.44" y="63.91" width="8.61" height="3.04" fill="#e4e0f4"/>
<rect x="89.44" y="66.90" width="8.61" height="3.04" fill="#eae6f4"/>
<rect x="89.44" y="69.89" width="8.61" height="3.04" fill="#f0e3ea"/>
<rect x="89.44" y="72.89" width="8.61" height="3.04" fill="#e9e5f4"/>
<rect x="89.44" y="75.88" width="8.61" height="3.04" fill="#f0dfea"/>
<rect x="89.44" y="78.88" width="8.61" height="3.04" fill="#f0d6ea"/>
<rect x="89.44" y="81.87" width="8.61" height="3.04" fill="#e5e1f4"/>
<rect x="89.44" y="84.86" width="8.61" height="3.04" fill="#f0ddea"/>
<rect x="89.44" y="87.86" width="8.61" height="3.04" fill="#f0e1ea"/>
<rect x="89.44" y="90.85" width="8.61" height="3.04" fill="#ece8f4"/>
<rect x="89.44" y="93.84" width="8.61" height="3.04" fill="#efebf4"/>
<rect x="89.44" y="96.84" width="8.61" height="3.04" fill="#f0e6ea"/>
<rect x="89.44" y="99.83" width="8.61" height="3.04" fill="#ede9f4"/>
<rect x="89.44" y="102.83" width="8.61" height="3.04" fill="#e2def4"/>
<rect x="89.44" y="105.82" width="8.61" height="3.04" fill="#e2def4"/>
<rect x="89.44" y="108.81" width="8.61" height="3.04" fill="#f0d8ea"/>
<rect x="89.44" y="111.81" width="8.61" height="3.04" fill="#e1ddf4"/>
<rect x="89.44" y="114.80" width="8.61" height="3.04" fill="#e2def4"/>
<rect x="89.44" y="117.79" width="8.61" height="3.04" fill="#a0a0f2"/>
<rect x="89.44" y="120.79" width="8.61" height="3.04" fill="#a7a7f2"/>
<rect x="89.44" y="123.78" width="8.61" height="3.04" fill="#dcdcf2"/>
<rect x="89.44" y="126.77" width="8.61" height="3.04" fill="#9e9ef2"/>
<rect x="89.44" y="129.77" width="8.61" height="3.04" fill="#a4a4f2"/>
<rect x="89.44" y="132.76" width="8.61" height="3.04" fill="#adadf2"/>
<rect x="89.44" y="135.76" width="8.61" height="3.04" fill="#9a9af2"/>
<rect x="89.44" y="138.75" width="8.61" height="3.04" fill="#b7b7f2"/>
<rect x="89.44" y="141.74" width="8.61" height="3.04" fill="#c3c3f2"/>
<rect x="89.44" y="144.74" width="8.61" height="3.04" fill="#c8c8f2"/>
<rect x="89.44" y="147.73" width="8.61" height="3.04" fill="#b4b4f2"/>
<rect x="89.44" y="150.72" width="8.61" height="3.04" fill="#ababf2"/>
<rect x="89.44" y="153.72" width="8.61" height="3.04" fill="#c2c2f2"/>
<rect x="89.44" y="156.71" width="8.61" height="3.04" fill="#c1c1f2"/>
<rect x="89.44" y="159.71" width="8.61" height="3.04" fill="#a9a9f2"/>
<rect x="89.44" y="162.70" width="8.61" height="3.04" fill="#a4a4f2"/>
<rect x="89.44" y="165.69" width="8.61" height="3.04" fill="#e2def4"/>
<rect x="89.44" y="168.69" width="8.61" height="3.04" fill="#f4e5e9"/>
<rect x="89.44" y="171.68" width="8.61" height="3.04" fill="#f4e2e6"/>
<rect x="89.44" y="174.67" width="8.61" height="3.04" fill="#dbd7f4"/>
<rect x="89.44" y="177.67" width="8.61" height="3.04" fill="#e5e1f4"/>
<rect x="89.44" y="180.66" width="8.61" height="3.04" fill="#e5e1f4"/>
<rect x="89.44" y="183.66" width="8.61" height="3.04" fill="#f4e0e4"/>
<rect x="89.44" y="186.65" width="8.61" height="3.04" fill="#e9e5f4"/>
<rect x="89.44" y="189.64" width="8.61" height="3.04" fill="#f4e6ea"/>
<rect x="89.44" y="192.64" width="8.61" height="3.04" fill="#f4dde1"/>
<rect x="89.44" y="195.63" width="8.61" height="3.04" fill="#f4dfe3"/>
<rect x="89.44" y="198.62" width="8.61" height="3.04" fill="#ede9f4"/>
<rect x="89.44" y="201.62" width="8.61" height="3.04" fill="#eeeaf4"/>
<rect x="89.44" y="204.61" width="8.61" height="3.04" fill="#f4eaee"/>
<rect x="89.44" y="207.61" width="8.61" height="3.04" fill="#f4e7eb"/>
<rect x="89.44" y="210.60" width="8.61" height="3.04" fill="#e2def4"/>
<rect x="89.44" y="213.59" width="8.61" height="3.04" fill="#f4e5e9"/>
<rect x="89.44" y="216.59" width="8.61" height="3.04" fill="#f4dbdf"/>
<rect x="89.44" y="219.58" width="8.61" height="3.04" fill="#f4dfe3"/>
<rect x="89.44" y="222.57" width="8.61" height="3.04" fill="#ede9f4"/>
<rect x="89.44" y="225.57" width="8.61" height="3.04" fill="#f4dde1"/>
<rect x="89.44" y="228.56" width="8.61" height="3.04" fill="#f4eaee"/>
<rect x="89.44" y="231.56" width="8.61" height="3.04" fill="#e7e3f4"/>
<rect x="89.44" y="234.55" width="8.61" height="3.04" fill="#eeeaf4"/>
<rect x="89.44" y="237.54" width="8.61" height="3.04" fill="#f4e6ea"/>
<rect x="89.44" y="240.54" width="8.61" height="3.04" fill="#e8e4f4"/>
<rect x="89.44" y="243.53" width="8.61" height="3.04" fill="#f4e0e4"/>
<rect x="89.44" y="246.53" width="8.61" height="3.04" fill="#f4d7db"/>
<rect x="89.44" y="249.52" width="8.61" height="3.04" fill="#e5e1f4"/>
<rect x="89.44" y="252.51" width="8.61" height="3.04" fill="#e4e0f4"/>
<rect x="89.44" y="255.51" width="8.61" height="3.04" fill="#f4e7eb"/>
<line x1="38.06" y1="19.00" x2="38.06" y2="258.50" stroke="#ffffff" stroke-width="0.5" stroke-opacity="0.5"/>
<line x1="46.62" y1="19.00" x2="46.62" y2="258.50" stroke="#ffffff" stroke-width="0.5" stroke-opacity="0.5"/>
<line x1="55.19" y1="19.00" x2="55.19" y2="258.50" stroke="#ffffff" stroke-width="0.5" stroke-opacity="0.5"/>
<line x1="63.75" y1="19.00" x2="63.75" y2="258.50" stroke="#ffffff" stroke-width="0.5" stroke-opacity="0.5"/>
<line x1="72.31" y1="19.00" x2="72.31" y2="258.50" stroke="#ffffff" stroke-width="0.5" stroke-opacity="0.5"/>
<line x1="80.88" y1="19.00" x2="80.88" y2="258.50" stroke="#ffffff" stroke-width="0.5" stroke-opacity="0.5"/>
<line x1="89.44" y1="19.00" x2="89.44" y2="258.50" stroke="#ffffff" stroke-width="0.5" stroke-opacity="0.5"/>
</g>
<rect x="28.80" y="19.00" width="70.00" height="239.80" fill="none" stroke="#b8b8c8" stroke-width="1.2"/>
<rect x="28.30" y="118.20" width="71.30" height="35.40" fill="none" stroke="#1c1c48" stroke-width="2"/>
<line x1="99.60" y1="118.20" x2="116.50" y2="28.50" stroke="#333" stroke-width="1"/>
<line x1="99.60" y1="153.60" x2="116.50" y2="240.50" stroke="#333" stroke-width="1"/>
<rect x="120.60" y="28.20" width="7.70" height="213.30" fill="#f20000"/>
<text x="127.60" y="26.00" font-size="5.2" fill="#333" font-weight="bold" textLength="26.00" lengthAdjust="spacingAndGlyphs" transform="rotate(-90 127.60 26.00)">46.96Mb</text>
<text x="127.40" y="270.50" font-size="5.2" fill="#333" font-weight="bold" textLength="26.00" lengthAdjust="spacingAndGlyphs" transform="rotate(-90 127.40 270.50)">47.31Mb</text>
<line x1="138.90" y1="21.50" x2="138.90" y2="252.00" stroke="#555" stroke-width="1"/>
<rect x="137.10" y="29.00" width="3.60" height="31.00" fill="#555"/>
<path d="M135.70 31.00 L138.90 27.00 L142.10 31.00 Z" fill="#555"/>
<rect x="137.10" y="62.00" width="3.60" height="13.00" fill="#555"/>
<path d="M135.70 74.00 L138.90 78.00 L142.10 74.00 Z" fill="#555"/>
<path d="M135.70 84.00 L138.90 80.00 L142.10 84.00 Z" fill="#555"/>
<rect x="137.10" y="84.00" width="3.60" height="44.00" fill="#555"/>
<rect x="137.10" y="175.00" width="3.60" height="30.00" fill="#555"/>
<path d="M135.70 176.00 L138.90 172.00 L142.10 176.00 Z" fill="#555"/>
<path d="M135.70 205.00 L138.90 209.00 L142.10 205.00 Z" fill="#555"/>
<rect x="137.10" y="211.00" width="3.60" height="27.00" fill="#555"/>
<path d="M135.70 238.00 L138.90 242.00 L142.10 238.00 Z" fill="#555"/>
<text x="148.80" y="54.00" font-size="6" fill="#444" textLength="26.00" lengthAdjust="spacingAndGlyphs" font-style="italic" transform="rotate(-90 148.80 54.00)">CCDC12</text>
<text x="152.30" y="86.00" font-size="5.5" fill="#444" textLength="24.00" lengthAdjust="spacingAndGlyphs" font-style="italic" transform="rotate(-90 152.30 86.00)">NKIRAS1</text>
<text x="148.80" y="120.50" font-size="6" fill="#222" font-weight="bold" textLength="19.50" lengthAdjust="spacingAndGlyphs" font-style="italic" transform="rotate(-90 148.80 120.50)">SETD2</text>
<text x="148.80" y="198.70" font-size="5.5" fill="#444" textLength="13.70" lengthAdjust="spacingAndGlyphs" font-style="italic" transform="rotate(-90 148.80 198.70)">KIF9</text>
<text x="148.80" y="236.00" font-size="5.5" fill="#444" textLength="22.00" lengthAdjust="spacingAndGlyphs" font-style="italic" transform="rotate(-90 148.80 236.00)">KLHL18</text>
<rect x="154.40" y="107.50" width="6.30" height="116.50" fill="#8a3cc8"/>
<text x="159.60" y="104.70" font-size="5.2" fill="#333" font-weight="bold" textLength="24.50" lengthAdjust="spacingAndGlyphs" transform="rotate(-90 159.60 104.70)">47.13Mb</text>
<text x="159.30" y="254.60" font-size="5.2" fill="#333" font-weight="bold" textLength="28.00" lengthAdjust="spacingAndGlyphs" transform="rotate(-90 159.30 254.60)">47.36Mb</text>
<line x1="165.50" y1="108.00" x2="180.60" y2="122.70" stroke="#333" stroke-width="1"/>
<line x1="165.50" y1="224.00" x2="180.60" y2="170.80" stroke="#333" stroke-width="1"/>
<text x="187.30" y="8.80" font-size="9" fill="#000" font-weight="bold" textLength="64.40" lengthAdjust="spacingAndGlyphs">Pre-treatment</text>
<rect x="181.00" y="13.00" width="78.00" height="5.80" fill="#8440c4"/>
<g filter="url(#soft)">
<rect x="182.00" y="18.80" width="8.44" height="3.04" fill="#cbcbf6"/>
<rect x="182.00" y="21.79" width="8.44" height="3.04" fill="#b8b8f6"/>
<rect x="182.00" y="24.77" width="8.44" height="3.04" fill="#dbdbf6"/>
<rect x="182.00" y="27.76" width="8.44" height="3.04" fill="#c8c8f6"/>
<rect x="182.00" y="30.75" width="8.44" height="3.04" fill="#c7c7f6"/>
<rect x="182.00" y="33.74" width="8.44" height="3.04" fill="#bcbcf6"/>
<rect x="182.00" y="36.72" width="8.44" height="3.04" fill="#c7c7f6"/>
<rect x="182.00" y="39.71" width="8.44" height="3.04" fill="#bdbdf6"/>
<rect x="182.00" y="42.70" width="8.44" height="3.04" fill="#c8c8f6"/>
<rect x="182.00" y="45.69" width="8.44" height="3.04" fill="#ccccf6"/>
<rect x="182.00" y="48.67" width="8.44" height="3.04" fill="#c8c8f6"/>
<rect x="182.00" y="51.66" width="8.44" height="3.04" fill="#cacaf6"/>
<rect x="182.00" y="54.65" width="8.44" height="3.04" fill="#d6d6f6"/>
<rect x="182.00" y="57.64" width="8.44" height="3.04" fill="#e2def4"/>
<rect x="182.00" y="60.62" width="8.44" height="3.04" fill="#babaf6"/>
<rect x="182.00" y="63.61" width="8.44" height="3.04" fill="#8b8bf2"/>
<rect x="182.00" y="66.60" width="8.44" height="3.04" fill="#b5b5f2"/>
<rect x="182.00" y="69.59" width="8.44" height="3.04" fill="#b7b7f2"/>
<rect x="182.00" y="72.58" width="8.44" height="3.04" fill="#c2c2f6"/>
<rect x="182.00" y="75.56" width="8.44" height="3.04" fill="#babaf2"/>
<rect x="182.00" y="78.55" width="8.44" height="3.04" fill="#ece8f4"/>
<rect x="182.00" y="81.54" width="8.44" height="3.04" fill="#c7c7f6"/>
<rect x="182.00" y="84.52" width="8.44" height="3.04" fill="#cecef6"/>
<rect x="182.00" y="87.51" width="8.44" height="3.04" fill="#bebef6"/>
<rect x="182.00" y="90.50" width="8.44" height="3.04" fill="#c5c5f6"/>
<rect x="182.00" y="93.49" width="8.44" height="3.04" fill="#adadf2"/>
<rect x="182.00" y="96.47" width="8.44" height="3.04" fill="#ccccf6"/>
<rect x="182.00" y="99.46" width="8.44" height="3.04" fill="#c9c9f6"/>
<rect x="182.00" y="102.45" width="8.44" height="3.04" fill="#b8b8f6"/>
<rect x="182.00" y="105.44" width="8.44" height="3.04" fill="#9696f2"/>
<rect x="182.00" y="108.42" width="8.44" height="3.04" fill="#b7b7f6"/>
<rect x="182.00" y="111.41" width="8.44" height="3.04" fill="#f0dcea"/>
<rect x="182.00" y="114.40" width="8.44" height="3.04" fill="#ccccf6"/>
<rect x="182.00" y="117.39" width="8.44" height="3.04" fill="#c1c1f6"/>
<rect x="182.00" y="120.37" width="8.44" height="3.04" fill="#bbbbf6"/>
<rect x="182.00" y="123.36" width="8.44" height="3.04" fill="#c2c2f6"/>
<rect x="182.00" y="126.35" width="8.44" height="3.04" fill="#c8c8f6"/>
<rect x="182.00" y="129.34" width="8.44" height="3.04" fill="#cbcbf6"/>
<rect x="182.00" y="132.32" width="8.44" height="3.04" fill="#babaf6"/>
<rect x="182.00" y="135.31" width="8.44" height="3.04" fill="#c5c5f6"/>
<rect x="182.00" y="138.30" width="8.44" height="3.04" fill="#d0d0f6"/>
<rect x="182.00" y="141.29" width="8.44" height="3.04" fill="#c7c7f6"/>
<rect x="182.00" y="144.28" width="8.44" height="3.04" fill="#d1d1f6"/>
<rect x="182.00" y="147.26" width="8.44" height="3.04" fill="#cacaf6"/>
<rect x="182.00" y="150.25" width="8.44" height="3.04" fill="#c6c6f6"/>
<rect x="182.00" y="153.24" width="8.44" height="3.04" fill="#c9c9f6"/>
<rect x="182.00" y="156.22" width="8.44" height="3.04" fill="#b2b2f6"/>
<rect x="182.00" y="159.21" width="8.44" height="3.04" fill="#c9c9f6"/>
<rect x="182.00" y="162.20" width="8.44" height="3.04" fill="#babaf6"/>
<rect x="182.00" y="165.19" width="8.44" height="3.04" fill="#bfbff6"/>
<rect x="182.00" y="168.18" width="8.44" height="3.04" fill="#c9c9f6"/>
<rect x="182.00" y="171.16" width="8.44" height="3.04" fill="#b6b6f6"/>
<rect x="182.00" y="174.15" width="8.44" height="3.04" fill="#cecef6"/>
<rect x="182.00" y="177.14" width="8.44" height="3.04" fill="#acacf2"/>
<rect x="182.00" y="180.12" width="8.44" height="3.04" fill="#b5b5f6"/>
<rect x="182.00" y="183.11" width="8.44" height="3.04" fill="#acacf2"/>
<rect x="182.00" y="186.10" width="8.44" height="3.04" fill="#d8d8f6"/>
<rect x="182.00" y="189.09" width="8.44" height="3.04" fill="#e6e2f4"/>
<rect x="182.00" y="192.07" width="8.44" height="3.04" fill="#b0b0f6"/>
<rect x="182.00" y="195.06" width="8.44" height="3.04" fill="#a6a6f2"/>
<rect x="182.00" y="198.05" width="8.44" height="3.04" fill="#b6b6f2"/>
<rect x="182.00" y="201.04" width="8.44" height="3.04" fill="#c8c8f6"/>
<rect x="182.00" y="204.03" width="8.44" height="3.04" fill="#c9c9f6"/>
<rect x="182.00" y="207.01" width="8.44" height="3.04" fill="#e2def4"/>
<rect x="182.00" y="210.00" width="8.44" height="3.04" fill="#e0dcf4"/>
<rect x="182.00" y="212.99" width="8.44" height="3.04" fill="#c9c9f6"/>
<rect x="182.00" y="215.97" width="8.44" height="3.04" fill="#b4b4f2"/>
<rect x="182.00" y="218.96" width="8.44" height="3.04" fill="#c2c2f2"/>
<rect x="182.00" y="221.95" width="8.44" height="3.04" fill="#c6c6f6"/>
<rect x="182.00" y="224.94" width="8.44" height="3.04" fill="#b7b7f2"/>
<rect x="182.00" y="227.93" width="8.44" height="3.04" fill="#bfbff6"/>
<rect x="182.00" y="230.91" width="8.44" height="3.04" fill="#d1d1f6"/>
<rect x="182.00" y="233.90" width="8.44" height="3.04" fill="#e4e0f4"/>
<rect x="182.00" y="236.89" width="8.44" height="3.04" fill="#bcbcf6"/>
<rect x="182.00" y="239.88" width="8.44" height="3.04" fill="#c3c3f2"/>
<rect x="182.00" y="242.86" width="8.44" height="3.04" fill="#adadf6"/>
<rect x="182.00" y="245.85" width="8.44" height="3.04" fill="#a3a3f2"/>
<rect x="182.00" y="248.84" width="8.44" height="3.04" fill="#cdcdf6"/>
<rect x="182.00" y="251.82" width="8.44" height="3.04" fill="#c0c0f2"/>
<rect x="182.00" y="254.81" width="8.44" height="3.04" fill="#dbdbf6"/>
<rect x="190.39" y="18.80" width="8.44" height="3.04" fill="#aaaaf2"/>
<rect x="190.39" y="21.79" width="8.44" height="3.04" fill="#9a9af2"/>
<rect x="190.39" y="24.77" width="8.44" height="3.04" fill="#b3b3f2"/>
<rect x="190.39" y="27.76" width="8.44" height="3.04" fill="#c1c1f2"/>
<rect x="190.39" y="30.75" width="8.44" height="3.04" fill="#b4b4f2"/>
<rect x="190.39" y="33.74" width="8.44" height="3.04" fill="#b2b2f2"/>
<rect x="190.39" y="36.72" width="8.44" height="3.04" fill="#a8a8f2"/>
<rect x="190.39" y="39.71" width="8.44" height="3.04" fill="#7878e8"/>
<rect x="190.39" y="42.70" width="8.44" height="3.04" fill="#7a7ae9"/>
<rect x="190.39" y="45.69" width="8.44" height="3.04" fill="#6464e2"/>
<rect x="190.39" y="48.67" width="8.44" height="3.04" fill="#6f6fe5"/>
<rect x="190.39" y="51.66" width="8.44" height="3.04" fill="#7777e8"/>
<rect x="190.39" y="54.65" width="8.44" height="3.04" fill="#7474e7"/>
<rect x="190.39" y="57.64" width="8.44" height="3.04" fill="#5b5bdf"/>
<rect x="190.39" y="60.62" width="8.44" height="3.04" fill="#7575e7"/>
<rect x="190.39" y="63.61" width="8.44" height="3.04" fill="#6969e3"/>
<rect x="190.39" y="66.60" width="8.44" height="3.04" fill="#8585ed"/>
<rect x="190.39" y="69.59" width="8.44" height="3.04" fill="#6767e3"/>
<rect x="190.39" y="72.58" width="8.44" height="3.04" fill="#6e6ee5"/>
<rect x="190.39" y="75.56" width="8.44" height="3.04" fill="#6666e2"/>
<rect x="190.39" y="78.55" width="8.44" height="3.04" fill="#7272e6"/>
<rect x="190.39" y="81.54" width="8.44" height="3.04" fill="#7272e6"/>
<rect x="190.39" y="84.52" width="8.44" height="3.04" fill="#7272e6"/>
<rect x="190.39" y="87.51" width="8.44" height="3.04" fill="#6565e2"/>
<rect x="190.39" y="90.50" width="8.44" height="3.04" fill="#6565e2"/>
<rect x="190.39" y="93.49" width="8.44" height="3.04" fill="#7a7ae9"/>
<rect x="190.39" y="96.47" width="8.44" height="3.04" fill="#7c7cea"/>
<rect x="190.39" y="99.46" width="8.44" height="3.04" fill="#7272e6"/>
<rect x="190.39" y="102.45" width="8.44" height="3.04" fill="#6b6be4"/>
<rect x="190.39" y="105.44" width="8.44" height="3.04" fill="#6161ea"/>
<rect x="190.39" y="108.42" width="8.44" height="3.04" fill="#6f6fe5"/>
<rect x="190.39" y="111.41" width="8.44" height="3.04" fill="#7474e7"/>
<rect x="190.39" y="114.40" width="8.44" height="3.04" fill="#7070e6"/>
<rect x="190.39" y="117.39" width="8.44" height="3.04" fill="#7575e7"/>
<rect x="190.39" y="120.37" width="8.44" height="3.04" fill="#7373e7"/>
<rect x="190.39" y="123.36" width="8.44" height="3.04" fill="#6767e3"/>
<rect x="190.39" y="126.35" width="8.44" height="3.04" fill="#6969e3"/>
<rect x="190.39" y="129.34" width="8.44" height="3.04" fill="#7474e7"/>
<rect x="190.39" y="132.32" width="8.44" height="3.04" fill="#7171e6"/>
<rect x="190.39" y="135.31" width="8.44" height="3.04" fill="#6b6be4"/>
<rect x="190.39" y="138.30" width="8.44" height="3.04" fill="#6363eb"/>
<rect x="190.39" y="141.29" width="8.44" height="3.04" fill="#7474e7"/>
<rect x="190.39" y="144.28" width="8.44" height="3.04" fill="#7474e7"/>
<rect x="190.39" y="147.26" width="8.44" height="3.04" fill="#7777e8"/>
<rect x="190.39" y="150.25" width="8.44" height="3.04" fill="#7272e6"/>
<rect x="190.39" y="153.24" width="8.44" height="3.04" fill="#6b6be4"/>
<rect x="190.39" y="156.22" width="8.44" height="3.04" fill="#7474e7"/>
<rect x="190.39" y="159.21" width="8.44" height="3.04" fill="#5959de"/>
<rect x="190.39" y="162.20" width="8.44" height="3.04" fill="#7979e9"/>
<rect x="190.39" y="165.19" width="8.44" height="3.04" fill="#6a6ae4"/>
<rect x="190.39" y="168.18" width="8.44" height="3.04" fill="#7979e9"/>
<rect x="190.39" y="171.16" width="8.44" height="3.04" fill="#8f8ff2"/>
<rect x="190.39" y="174.15" width="8.44" height="3.04" fill="#9797f2"/>
<rect x="190.39" y="177.14" width="8.44" height="3.04" fill="#afaff2"/>
<rect x="190.39" y="180.12" width="8.44" height="3.04" fill="#b2b2f2"/>
<rect x="190.39" y="183.11" width="8.44" height="3.04" fill="#d4d4f2"/>
<rect x="190.39" y="186.10" width="8.44" height="3.04" fill="#9e9ef2"/>
<rect x="190.39" y="189.09" width="8.44" height="3.04" fill="#8383ec"/>
<rect x="190.39" y="192.07" width="8.44" height="3.04" fill="#7b7be9"/>
<rect x="190.39" y="195.06" width="8.44" height="3.04" fill="#6969e3"/>
<rect x="190.39" y="198.05" width="8.44" height="3.04" fill="#8686ed"/>
<rect x="190.39" y="201.04" width="8.44" height="3.04" fill="#8686ed"/>
<rect x="190.39" y="204.03" width="8.44" height="3.04" fill="#7474e7"/>
<rect x="190.39" y="207.01" width="8.44" height="3.04" fill="#8181eb"/>
<rect x="190.39" y="210.00" width="8.44" height="3.04" fill="#7676e8"/>
<rect x="190.39" y="212.99" width="8.44" height="3.04" fill="#7676e8"/>
<rect x="190.39" y="215.97" width="8.44" height="3.04" fill="#7676e8"/>
<rect x="190.39" y="218.96" width="8.44" height="3.04" fill="#8080eb"/>
<rect x="190.39" y="221.95" width="8.44" height="3.04" fill="#6a6ae4"/>
<rect x="190.39" y="224.94" width="8.44" height="3.04" fill="#6868e3"/>
<rect x="190.39" y="227.93" width="8.44" height="3.04" fill="#7878e8"/>
<rect x="190.39" y="230.91" width="8.44" height="3.04" fill="#7272e6"/>
<rect x="190.39" y="233.90" width="8.44" height="3.04" fill="#7777e8"/>
<rect x="190.39" y="236.89" width="8.44" height="3.04" fill="#6f6fe5"/>
<rect x="190.39" y="239.88" width="8.44" height="3.04" fill="#7676e8"/>
<rect x="190.39" y="242.86" width="8.44" height="3.04" fill="#b3b3f2"/>
<rect x="190.39" y="245.85" width="8.44" height="3.04" fill="#c2c2f6"/>
<rect x="190.39" y="248.84" width="8.44" height="3.04" fill="#ccccf6"/>
<rect x="190.39" y="251.82" width="8.44" height="3.04" fill="#6e6ee5"/>
<rect x="190.39" y="254.81" width="8.44" height="3.04" fill="#9a9af2"/>
<rect x="198.78" y="18.80" width="8.44" height="3.04" fill="#f0e9ea"/>
<rect x="198.78" y="21.79" width="8.44" height="3.04" fill="#bbbbf6"/>
<rect x="198.78" y="24.77" width="8.44" height="3.04" fill="#f4e0e4"/>
<rect x="198.78" y="27.76" width="8.44" height="3.04" fill="#f4e3e7"/>
<rect x="198.78" y="30.75" width="8.44" height="3.04" fill="#eae6f4"/>
<rect x="198.78" y="33.74" width="8.44" height="3.04" fill="#f4dbdf"/>
<rect x="198.78" y="36.72" width="8.44" height="3.04" fill="#e7e3f4"/>
<rect x="198.78" y="39.71" width="8.44" height="3.04" fill="#cfcff6"/>
<rect x="198.78" y="42.70" width="8.44" height="3.04" fill="#d0d0f6"/>
<rect x="198.78" y="45.69" width="8.44" height="3.04" fill="#e6e2f4"/>
<rect x="198.78" y="48.67" width="8.44" height="3.04" fill="#e9e5f4"/>
<rect x="198.78" y="51.66" width="8.44" height="3.04" fill="#f0dbea"/>
<rect x="198.78" y="54.65" width="8.44" height="3.04" fill="#7c7ceb"/>
<rect x="198.78" y="57.64" width="8.44" height="3.04" fill="#7979eb"/>
<rect x="198.78" y="60.62" width="8.44" height="3.04" fill="#8484eb"/>
<rect x="198.78" y="63.61" width="8.44" height="3.04" fill="#7474eb"/>
<rect x="198.78" y="66.60" width="8.44" height="3.04" fill="#8989eb"/>
<rect x="198.78" y="69.59" width="8.44" height="3.04" fill="#7d7deb"/>
<rect x="198.78" y="72.58" width="8.44" height="3.04" fill="#7d7deb"/>
<rect x="198.78" y="75.56" width="8.44" height="3.04" fill="#8989eb"/>
<rect x="198.78" y="78.55" width="8.44" height="3.04" fill="#8a8aeb"/>
<rect x="198.78" y="81.54" width="8.44" height="3.04" fill="#8484eb"/>
<rect x="198.78" y="84.52" width="8.44" height="3.04" fill="#7a7aeb"/>
<rect x="198.78" y="87.51" width="8.44" height="3.04" fill="#8c8ceb"/>
<rect x="198.78" y="90.50" width="8.44" height="3.04" fill="#7272eb"/>
<rect x="198.78" y="93.49" width="8.44" height="3.04" fill="#9d9deb"/>
<rect x="198.78" y="96.47" width="8.44" height="3.04" fill="#8989eb"/>
<rect x="198.78" y="99.46" width="8.44" height="3.04" fill="#7a7aeb"/>
<rect x="198.78" y="102.45" width="8.44" height="3.04" fill="#8585eb"/>
<rect x="198.78" y="105.44" width="8.44" height="3.04" fill="#8e8eeb"/>
<rect x="198.78" y="108.42" width="8.44" height="3.04" fill="#8787eb"/>
<rect x="198.78" y="111.41" width="8.44" height="3.04" fill="#8686eb"/>
<rect x="198.78" y="114.40" width="8.44" height="3.04" fill="#8080eb"/>
<rect x="198.78" y="117.39" width="8.44" height="3.04" fill="#7c7ceb"/>
<rect x="198.78" y="120.37" width="8.44" height="3.04" fill="#8686eb"/>
<rect x="198.78" y="123.36" width="8.44" height="3.04" fill="#aaaaf2"/>
<rect x="198.78" y="126.35" width="8.44" height="3.04" fill="#bcbcf2"/>
<rect x="198.78" y="129.34" width="8.44" height="3.04" fill="#ababf2"/>
<rect x="198.78" y="132.32" width="8.44" height="3.04" fill="#9c9cf2"/>
<rect x="198.78" y="135.31" width="8.44" height="3.04" fill="#a6a6f2"/>
<rect x="198.78" y="138.30" width="8.44" height="3.04" fill="#9d9df2"/>
<rect x="198.78" y="141.29" width="8.44" height="3.04" fill="#a4a4f2"/>
<rect x="198.78" y="144.28" width="8.44" height="3.04" fill="#afaff2"/>
<rect x="198.78" y="147.26" width="8.44" height="3.04" fill="#afaff2"/>
<rect x="198.78" y="150.25" width="8.44" height="3.04" fill="#b3b3f2"/>
<rect x="198.78" y="153.24" width="8.44" height="3.04" fill="#9b9bf2"/>
<rect x="198.78" y="156.22" width="8.44" height="3.04" fill="#acacf2"/>
<rect x="198.78" y="159.21" width="8.44" height="3.04" fill="#a6a6f2"/>
<rect x="198.78" y="162.20" width="8.44" height="3.04" fill="#9797f2"/>
<rect x="198.78" y="165.19" width="8.44" height="3.04" fill="#ababf2"/>
<rect x="198.78" y="168.18" width="8.44" height="3.04" fill="#a5a5f2"/>
<rect x="198.78" y="171.16" width="8.44" height="3.04" fill="#b2b2f2"/>
<rect x="198.78" y="174.15" width="8.44" height="3.04" fill="#a0a0f2"/>
<rect x="198.78" y="177.14" width="8.44" height="3.04" fill="#9696f2"/>
<rect x="198.78" y="180.12" width="8.44" height="3.04" fill="#b0b0f2"/>
<rect x="198.78" y="183.11" width="8.44" height="3.04" fill="#a7a7f2"/>
<rect x="198.78" y="186.10" width="8.44" height="3.04" fill="#cbcbf6"/>
<rect x="198.78" y="189.09" width="8.44" height="3.04" fill="#f4dee2"/>
<rect x="198.78" y="192.07" width="8.44" height="3.04" fill="#cacaf6"/>
<rect x="198.78" y="195.06" width="8.44" height="3.04" fill="#f4e3e7"/>
<rect x="198.78" y="198.05" width="8.44" height="3.04" fill="#f4cac5"/>
<rect x="198.78" y="201.04" width="8.44" height="3.04" fill="#cacaf6"/>
<rect x="198.78" y="204.03" width="8.44" height="3.04" fill="#cecef6"/>
<rect x="198.78" y="207.01" width="8.44" height="3.04" fill="#c8c8f6"/>
<rect x="198.78" y="210.00" width="8.44" height="3.04" fill="#bdbdf6"/>
<rect x="198.78" y="212.99" width="8.44" height="3.04" fill="#c2c2f6"/>
<rect x="198.78" y="215.97" width="8.44" height="3.04" fill="#bbbbf6"/>
<rect x="198.78" y="218.96" width="8.44" height="3.04" fill="#e5e1f4"/>
<rect x="198.78" y="221.95" width="8.44" height="3.04" fill="#f4e5e9"/>
<rect x="198.78" y="224.94" width="8.44" height="3.04" fill="#c8c8f6"/>
<rect x="198.78" y="227.93" width="8.44" height="3.04" fill="#dadaf6"/>
<rect x="198.78" y="230.91" width="8.44" height="3.04" fill="#f0e4ea"/>
<rect x="198.78" y="233.90" width="8.44" height="3.04" fill="#c0c0f6"/>
<rect x="198.78" y="236.89" width="8.44" height="3.04" fill="#f4b6b1"/>
<rect x="198.78" y="239.88" width="8.44" height="3.04" fill="#f4d7db"/>
<rect x="198.78" y="242.86" width="8.44" height="3.04" fill="#cfcff6"/>
<rect x="198.78" y="245.85" width="8.44" height="3.04" fill="#f4cdc8"/>
<rect x="198.78" y="248.84" width="8.44" height="3.04" fill="#c6c6f6"/>
<rect x="198.78" y="251.82" width="8.44" height="3.04" fill="#c8c8f6"/>
<rect x="198.78" y="254.81" width="8.44" height="3.04" fill="#dfdbf4"/>
<rect x="207.17" y="18.80" width="8.44" height="3.04" fill="#f4dde1"/>
<rect x="207.17" y="21.79" width="8.44" height="3.04" fill="#f4f1f5"/>
<rect x="207.17" y="24.77" width="8.44" height="3.04" fill="#dedef6"/>
<rect x="207.17" y="27.76" width="8.44" height="3.04" fill="#f4e9ed"/>
<rect x="207.17" y="30.75" width="8.44" height="3.04" fill="#e0dcf4"/>
<rect x="207.17" y="33.74" width="8.44" height="3.04" fill="#c4c4f6"/>
<rect x="207.17" y="36.72" width="8.44" height="3.04" fill="#e0dcf4"/>
<rect x="207.17" y="39.71" width="8.44" height="3.04" fill="#f4d6da"/>
<rect x="207.17" y="42.70" width="8.44" height="3.04" fill="#f4e8ec"/>
<rect x="207.17" y="45.69" width="8.44" height="3.04" fill="#f4d9dd"/>
<rect x="207.17" y="48.67" width="8.44" height="3.04" fill="#e6e2f4"/>
<rect x="207.17" y="51.66" width="8.44" height="3.04" fill="#dadaf6"/>
<rect x="207.17" y="54.65" width="8.44" height="3.04" fill="#f0e4ea"/>
<rect x="207.17" y="57.64" width="8.44" height="3.04" fill="#e4e0f4"/>
<rect x="207.17" y="60.62" width="8.44" height="3.04" fill="#c3c3f6"/>
<rect x="207.17" y="63.61" width="8.44" height="3.04" fill="#e4e0f4"/>
<rect x="207.17" y="66.60" width="8.44" height="3.04" fill="#dad6f4"/>
<rect x="207.17" y="69.59" width="8.44" height="3.04" fill="#f4e4e8"/>
<rect x="207.17" y="72.58" width="8.44" height="3.04" fill="#f4e1e5"/>
<rect x="207.17" y="75.56" width="8.44" height="3.04" fill="#d1d1f6"/>
<rect x="207.17" y="78.55" width="8.44" height="3.04" fill="#ece8f4"/>
<rect x="207.17" y="81.54" width="8.44" height="3.04" fill="#f0e1ea"/>
<rect x="207.17" y="84.52" width="8.44" height="3.04" fill="#e8e4f4"/>
<rect x="207.17" y="87.51" width="8.44" height="3.04" fill="#e4e0f4"/>
<rect x="207.17" y="90.50" width="8.44" height="3.04" fill="#f4f1f5"/>
<rect x="207.17" y="93.49" width="8.44" height="3.04" fill="#d0d0f6"/>
<rect x="207.17" y="96.47" width="8.44" height="3.04" fill="#ebe7f4"/>
<rect x="207.17" y="99.46" width="8.44" height="3.04" fill="#7171e6"/>
<rect x="207.17" y="102.45" width="8.44" height="3.04" fill="#7272e6"/>
<rect x="207.17" y="105.44" width="8.44" height="3.04" fill="#6767e3"/>
<rect x="207.17" y="108.42" width="8.44" height="3.04" fill="#6f6fe5"/>
<rect x="207.17" y="111.41" width="8.44" height="3.04" fill="#7474e7"/>
<rect x="207.17" y="114.40" width="8.44" height="3.04" fill="#7b7be9"/>
<rect x="207.17" y="117.39" width="8.44" height="3.04" fill="#7171e6"/>
<rect x="207.17" y="120.37" width="8.44" height="3.04" fill="#7171e6"/>
<rect x="207.17" y="123.36" width="8.44" height="3.04" fill="#6363eb"/>
<rect x="207.17" y="126.35" width="8.44" height="3.04" fill="#5b5be7"/>
<rect x="207.17" y="129.34" width="8.44" height="3.04" fill="#6969e3"/>
<rect x="207.17" y="132.32" width="8.44" height="3.04" fill="#8383ec"/>
<rect x="207.17" y="135.31" width="8.44" height="3.04" fill="#8888ee"/>
<rect x="207.17" y="138.30" width="8.44" height="3.04" fill="#6767e3"/>
<rect x="207.17" y="141.29" width="8.44" height="3.04" fill="#7474e7"/>
<rect x="207.17" y="144.28" width="8.44" height="3.04" fill="#7070e6"/>
<rect x="207.17" y="147.26" width="8.44" height="3.04" fill="#8c8cef"/>
<rect x="207.17" y="150.25" width="8.44" height="3.04" fill="#8484ec"/>
<rect x="207.17" y="153.24" width="8.44" height="3.04" fill="#7c7cea"/>
<rect x="207.17" y="156.22" width="8.44" height="3.04" fill="#6c6ce4"/>
<rect x="207.17" y="159.21" width="8.44" height="3.04" fill="#8383ec"/>
<rect x="207.17" y="162.20" width="8.44" height="3.04" fill="#6c6cf0"/>
<rect x="207.17" y="165.19" width="8.44" height="3.04" fill="#7373e7"/>
<rect x="207.17" y="168.18" width="8.44" height="3.04" fill="#7575e7"/>
<rect x="207.17" y="171.16" width="8.44" height="3.04" fill="#6262e1"/>
<rect x="207.17" y="174.15" width="8.44" height="3.04" fill="#7474e7"/>
<rect x="207.17" y="177.14" width="8.44" height="3.04" fill="#6161ea"/>
<rect x="207.17" y="180.12" width="8.44" height="3.04" fill="#7c7cea"/>
<rect x="207.17" y="183.11" width="8.44" height="3.04" fill="#7575e7"/>
<rect x="207.17" y="186.10" width="8.44" height="3.04" fill="#6565e2"/>
<rect x="207.17" y="189.09" width="8.44" height="3.04" fill="#f0e2ea"/>
<rect x="207.17" y="192.07" width="8.44" height="3.04" fill="#f4e2e6"/>
<rect x="207.17" y="195.06" width="8.44" height="3.04" fill="#e0dcf4"/>
<rect x="207.17" y="198.05" width="8.44" height="3.04" fill="#e7e3f4"/>
<rect x="207.17" y="201.04" width="8.44" height="3.04" fill="#c1c1f6"/>
<rect x="207.17" y="204.03" width="8.44" height="3.04" fill="#d0d0f6"/>
<rect x="207.17" y="207.01" width="8.44" height="3.04" fill="#c3c3f6"/>
<rect x="207.17" y="210.00" width="8.44" height="3.04" fill="#f4c5c0"/>
<rect x="207.17" y="212.99" width="8.44" height="3.04" fill="#cecef6"/>
<rect x="207.17" y="215.97" width="8.44" height="3.04" fill="#f4dfe3"/>
<rect x="207.17" y="218.96" width="8.44" height="3.04" fill="#f4e8ec"/>
<rect x="207.17" y="221.95" width="8.44" height="3.04" fill="#eae6f4"/>
<rect x="207.17" y="224.94" width="8.44" height="3.04" fill="#f4dfda"/>
<rect x="207.17" y="227.93" width="8.44" height="3.04" fill="#c0c0f6"/>
<rect x="207.17" y="230.91" width="8.44" height="3.04" fill="#dbdbf6"/>
<rect x="207.17" y="233.90" width="8.44" height="3.04" fill="#d1d1f6"/>
<rect x="207.17" y="236.89" width="8.44" height="3.04" fill="#f4dbdf"/>
<rect x="207.17" y="239.88" width="8.44" height="3.04" fill="#f4dee2"/>
<rect x="207.17" y="242.86" width="8.44" height="3.04" fill="#f4e4e8"/>
<rect x="207.17" y="245.85" width="8.44" height="3.04" fill="#e8e4f4"/>
<rect x="207.17" y="248.84" width="8.44" height="3.04" fill="#bfbff6"/>
<rect x="207.17" y="251.82" width="8.44" height="3.04" fill="#f4cec9"/>
<rect x="207.17" y="254.81" width="8.44" height="3.04" fill="#e5e1f4"/>
<rect x="215.56" y="18.80" width="8.44" height="3.04" fill="#e7e3f4"/>
<rect x="215.56" y="21.79" width="8.44" height="3.04" fill="#f4e0e4"/>
<rect x="215.56" y="24.77" width="8.44" height="3.04" fill="#f0e5ea"/>
<rect x="215.56" y="27.76" width="8.44" height="3.04" fill="#f4e7eb"/>
<rect x="215.56" y="30.75" width="8.44" height="3.04" fill="#f4e5e9"/>
<rect x="215.56" y="33.74" width="8.44" height="3.04" fill="#e7e3f4"/>
<rect x="215.56" y="36.72" width="8.44" height="3.04" fill="#e4e0f4"/>
<rect x="215.56" y="39.71" width="8.44" height="3.04" fill="#ddd9f4"/>
<rect x="215.56" y="42.70" width="8.44" height="3.04" fill="#f4e8ec"/>
<rect x="215.56" y="45.69" width="8.44" height="3.04" fill="#f0e5ea"/>
<rect x="215.56" y="48.67" width="8.44" height="3.04" fill="#bbbbf6"/>
<rect x="215.56" y="51.66" width="8.44" height="3.04" fill="#f0ebea"/>
<rect x="215.56" y="54.65" width="8.44" height="3.04" fill="#e8e4f4"/>
<rect x="215.56" y="57.64" width="8.44" height="3.04" fill="#bebef6"/>
<rect x="215.56" y="60.62" width="8.44" height="3.04" fill="#f4e5e9"/>
<rect x="215.56" y="63.61" width="8.44" height="3.04" fill="#e7e3f4"/>
<rect x="215.56" y="66.60" width="8.44" height="3.04" fill="#e5e1f4"/>
<rect x="215.56" y="69.59" width="8.44" height="3.04" fill="#d3d3f6"/>
<rect x="215.56" y="72.58" width="8.44" height="3.04" fill="#e7e3f4"/>
<rect x="215.56" y="75.56" width="8.44" height="3.04" fill="#f4d9dd"/>
<rect x="215.56" y="78.55" width="8.44" height="3.04" fill="#c3c3f6"/>
<rect x="215.56" y="81.54" width="8.44" height="3.04" fill="#c5c5f6"/>
<rect x="215.56" y="84.52" width="8.44" height="3.04" fill="#f0e3ea"/>
<rect x="215.56" y="87.51" width="8.44" height="3.04" fill="#ede9f4"/>
<rect x="215.56" y="90.50" width="8.44" height="3.04" fill="#e3dff4"/>
<rect x="215.56" y="93.49" width="8.44" height="3.04" fill="#d6d6f6"/>
<rect x="215.56" y="96.47" width="8.44" height="3.04" fill="#f4dfe3"/>
<rect x="215.56" y="99.46" width="8.44" height="3.04" fill="#a8a8f2"/>
<rect x="215.56" y="102.45" width="8.44" height="3.04" fill="#a9a9f2"/>
<rect x="215.56" y="105.44" width="8.44" height="3.04" fill="#b1b1f2"/>
<rect x="215.56" y="108.42" width="8.44" height="3.04" fill="#ababf2"/>
<rect x="215.56" y="111.41" width="8.44" height="3.04" fill="#a1a1f2"/>
<rect x="215.56" y="114.40" width="8.44" height="3.04" fill="#b8b8f2"/>
<rect x="215.56" y="117.39" width="8.44" height="3.04" fill="#b9b9f2"/>
<rect x="215.56" y="120.37" width="8.44" height="3.04" fill="#9696f2"/>
<rect x="215.56" y="123.36" width="8.44" height="3.04" fill="#b7b7f2"/>
<rect x="215.56" y="126.35" width="8.44" height="3.04" fill="#9a9af2"/>
<rect x="215.56" y="129.34" width="8.44" height="3.04" fill="#babaf2"/>
<rect x="215.56" y="132.32" width="8.44" height="3.04" fill="#aaaaf2"/>
<rect x="215.56" y="135.31" width="8.44" height="3.04" fill="#9b9bf2"/>
<rect x="215.56" y="138.30" width="8.44" height="3.04" fill="#b8b8f2"/>
<rect x="215.56" y="141.29" width="8.44" height="3.04" fill="#a7a7f2"/>
<rect x="215.56" y="144.28" width="8.44" height="3.04" fill="#b4b4f2"/>
<rect x="215.56" y="147.26" width="8.44" height="3.04" fill="#a5a5f2"/>
<rect x="215.56" y="150.25" width="8.44" height="3.04" fill="#9e9ef2"/>
<rect x="215.56" y="153.24" width="8.44" height="3.04" fill="#bcbcf2"/>
<rect x="215.56" y="156.22" width="8.44" height="3.04" fill="#9a9af2"/>
<rect x="215.56" y="159.21" width="8.44" height="3.04" fill="#b3b3f2"/>
<rect x="215.56" y="162.20" width="8.44" height="3.04" fill="#acacf2"/>
<rect x="215.56" y="165.19" width="8.44" height="3.04" fill="#b1b1f2"/>
<rect x="215.56" y="168.18" width="8.44" height="3.04" fill="#b9b9f2"/>
<rect x="215.56" y="171.16" width="8.44" height="3.04" fill="#ccccf6"/>
<rect x="215.56" y="174.15" width="8.44" height="3.04" fill="#d6d6f6"/>
<rect x="215.56" y="177.14" width="8.44" height="3.04" fill="#c9c9f6"/>
<rect x="215.56" y="180.12" width="8.44" height="3.04" fill="#d2d2f6"/>
<rect x="215.56" y="183.11" width="8.44" height="3.04" fill="#acacf6"/>
<rect x="215.56" y="186.10" width="8.44" height="3.04" fill="#dcdcf6"/>
<rect x="215.56" y="189.09" width="8.44" height="3.04" fill="#c8c8f6"/>
<rect x="215.56" y="192.07" width="8.44" height="3.04" fill="#f4d0cb"/>
<rect x="215.56" y="195.06" width="8.44" height="3.04" fill="#c1c1f6"/>
<rect x="215.56" y="198.05" width="8.44" height="3.04" fill="#e3dff4"/>
<rect x="215.56" y="201.04" width="8.44" height="3.04" fill="#f4e2e6"/>
<rect x="215.56" y="204.03" width="8.44" height="3.04" fill="#d0d0f6"/>
<rect x="215.56" y="207.01" width="8.44" height="3.04" fill="#f4e4e8"/>
<rect x="215.56" y="210.00" width="8.44" height="3.04" fill="#f4e6ea"/>
<rect x="215.56" y="212.99" width="8.44" height="3.04" fill="#e5e1f4"/>
<rect x="215.56" y="215.97" width="8.44" height="3.04" fill="#d8d8f6"/>
<rect x="215.56" y="218.96" width="8.44" height="3.04" fill="#f4dee2"/>
<rect x="215.56" y="221.95" width="8.44" height="3.04" fill="#f4e8ec"/>
<rect x="215.56" y="224.94" width="8.44" height="3.04" fill="#f4e4e8"/>
<rect x="215.56" y="227.93" width="8.44" height="3.04" fill="#f4cac5"/>
<rect x="215.56" y="230.91" width="8.44" height="3.04" fill="#ebe7f4"/>
<rect x="215.56" y="233.90" width="8.44" height="3.04" fill="#f4ebef"/>
<rect x="215.56" y="236.89" width="8.44" height="3.04" fill="#ece8f4"/>
<rect x="215.56" y="239.88" width="8.44" height="3.04" fill="#c3c3f6"/>
<rect x="215.56" y="242.86" width="8.44" height="3.04" fill="#c2c2f6"/>
<rect x="215.56" y="245.85" width="8.44" height="3.04" fill="#c2c2f6"/>
<rect x="215.56" y="248.84" width="8.44" height="3.04" fill="#e7e3f4"/>
<rect x="215.56" y="251.82" width="8.44" height="3.04" fill="#bbbbf6"/>
<rect x="215.56" y="254.81" width="8.44" height="3.04" fill="#f4c7c2"/>
<rect x="223.94" y="18.80" width="8.44" height="3.04" fill="#f4dee2"/>
<rect x="223.94" y="21.79" width="8.44" height="3.04" fill="#f0daea"/>
<rect x="223.94" y="24.77" width="8.44" height="3.04" fill="#ddd9f4"/>
<rect x="223.94" y="27.76" width="8.44" height="3.04" fill="#f4dade"/>
<rect x="223.94" y="30.75" width="8.44" height="3.04" fill="#e9e5f4"/>
<rect x="223.94" y="33.74" width="8.44" height="3.04" fill="#f0e2ea"/>
<rect x="223.94" y="36.72" width="8.44" height="3.04" fill="#e2def4"/>
<rect x="223.94" y="39.71" width="8.44" height="3.04" fill="#e9e5f4"/>
<rect x="223.94" y="42.70" width="8.44" height="3.04" fill="#e9e5f4"/>
<rect x="223.94" y="45.69" width="8.44" height="3.04" fill="#f4e6ea"/>
<rect x="223.94" y="48.67" width="8.44" height="3.04" fill="#f4eaee"/>
<rect x="223.94" y="51.66" width="8.44" height="3.04" fill="#e8e4f4"/>
<rect x="223.94" y="54.65" width="8.44" height="3.04" fill="#f0daea"/>
<rect x="223.94" y="57.64" width="8.44" height="3.04" fill="#d1d1f6"/>
<rect x="223.94" y="60.62" width="8.44" height="3.04" fill="#e6e2f4"/>
<rect x="223.94" y="63.61" width="8.44" height="3.04" fill="#e5e1f4"/>
<rect x="223.94" y="66.60" width="8.44" height="3.04" fill="#f4e1e5"/>
<rect x="223.94" y="69.59" width="8.44" height="3.04" fill="#ebe7f4"/>
<rect x="223.94" y="72.58" width="8.44" height="3.04" fill="#e6e2f4"/>
<rect x="223.94" y="75.56" width="8.44" height="3.04" fill="#e9e5f4"/>
<rect x="223.94" y="78.55" width="8.44" height="3.04" fill="#f4e5e9"/>
<rect x="223.94" y="81.54" width="8.44" height="3.04" fill="#e8e4f4"/>
<rect x="223.94" y="84.52" width="8.44" height="3.04" fill="#f4dfe3"/>
<rect x="223.94" y="87.51" width="8.44" height="3.04" fill="#7272e6"/>
<rect x="223.94" y="90.50" width="8.44" height="3.04" fill="#7979e9"/>
<rect x="223.94" y="93.49" width="8.44" height="3.04" fill="#7070e6"/>
<rect x="223.94" y="96.47" width="8.44" height="3.04" fill="#6d6de5"/>
<rect x="223.94" y="99.46" width="8.44" height="3.04" fill="#5656dd"/>
<rect x="223.94" y="102.45" width="8.44" height="3.04" fill="#7474e7"/>
<rect x="223.94" y="105.44" width="8.44" height="3.04" fill="#7979e9"/>
<rect x="223.94" y="108.42" width="8.44" height="3.04" fill="#6e6ee5"/>
<rect x="223.94" y="111.41" width="8.44" height="3.04" fill="#8484ec"/>
<rect x="223.94" y="114.40" width="8.44" height="3.04" fill="#7b7be9"/>
<rect x="223.94" y="117.39" width="8.44" height="3.04" fill="#6868e3"/>
<rect x="223.94" y="120.37" width="8.44" height="3.04" fill="#5252e3"/>
<rect x="223.94" y="123.36" width="8.44" height="3.04" fill="#8888ee"/>
<rect x="223.94" y="126.35" width="8.44" height="3.04" fill="#7676e8"/>
<rect x="223.94" y="129.34" width="8.44" height="3.04" fill="#5959e6"/>
<rect x="223.94" y="132.32" width="8.44" height="3.04" fill="#5e5ee9"/>
<rect x="223.94" y="135.31" width="8.44" height="3.04" fill="#7f7feb"/>
<rect x="223.94" y="138.30" width="8.44" height="3.04" fill="#8888ee"/>
<rect x="223.94" y="141.29" width="8.44" height="3.04" fill="#8181eb"/>
<rect x="223.94" y="144.28" width="8.44" height="3.04" fill="#6d6de5"/>
<rect x="223.94" y="147.26" width="8.44" height="3.04" fill="#7070e6"/>
<rect x="223.94" y="150.25" width="8.44" height="3.04" fill="#7171e6"/>
<rect x="223.94" y="153.24" width="8.44" height="3.04" fill="#7a7ae9"/>
<rect x="223.94" y="156.22" width="8.44" height="3.04" fill="#7676e8"/>
<rect x="223.94" y="159.21" width="8.44" height="3.04" fill="#6969e3"/>
<rect x="223.94" y="162.20" width="8.44" height="3.04" fill="#7878e8"/>
<rect x="223.94" y="165.19" width="8.44" height="3.04" fill="#6f6fe5"/>
<rect x="223.94" y="168.18" width="8.44" height="3.04" fill="#6767e3"/>
<rect x="223.94" y="171.16" width="8.44" height="3.04" fill="#f4ccc7"/>
<rect x="223.94" y="174.15" width="8.44" height="3.04" fill="#f4cfca"/>
<rect x="223.94" y="177.14" width="8.44" height="3.04" fill="#f4bfba"/>
<rect x="223.94" y="180.12" width="8.44" height="3.04" fill="#f4beb9"/>
<rect x="223.94" y="183.11" width="8.44" height="3.04" fill="#f4d0cb"/>
<rect x="223.94" y="186.10" width="8.44" height="3.04" fill="#f4cbc6"/>
<rect x="223.94" y="189.09" width="8.44" height="3.04" fill="#f4d2cd"/>
<rect x="223.94" y="192.07" width="8.44" height="3.04" fill="#f4dad5"/>
<rect x="223.94" y="195.06" width="8.44" height="3.04" fill="#f4d3ce"/>
<rect x="223.94" y="198.05" width="8.44" height="3.04" fill="#f4cdc8"/>
<rect x="223.94" y="201.04" width="8.44" height="3.04" fill="#d2d2f6"/>
<rect x="223.94" y="204.03" width="8.44" height="3.04" fill="#e8e4f4"/>
<rect x="223.94" y="207.01" width="8.44" height="3.04" fill="#ebe7f4"/>
<rect x="223.94" y="210.00" width="8.44" height="3.04" fill="#f4c2bd"/>
<rect x="223.94" y="212.99" width="8.44" height="3.04" fill="#e7e3f4"/>
<rect x="223.94" y="215.97" width="8.44" height="3.04" fill="#cecef6"/>
<rect x="223.94" y="218.96" width="8.44" height="3.04" fill="#f4c6c1"/>
<rect x="223.94" y="221.95" width="8.44" height="3.04" fill="#d1d1f6"/>
<rect x="223.94" y="224.94" width="8.44" height="3.04" fill="#e2def4"/>
<rect x="223.94" y="227.93" width="8.44" height="3.04" fill="#f4cdc8"/>
<rect x="223.94" y="230.91" width="8.44" height="3.04" fill="#f4d2cd"/>
<rect x="223.94" y="233.90" width="8.44" height="3.04" fill="#e4e0f4"/>
<rect x="223.94" y="236.89" width="8.44" height="3.04" fill="#f4cac5"/>
<rect x="223.94" y="239.88" width="8.44" height="3.04" fill="#e4e0f4"/>
<rect x="223.94" y="242.86" width="8.44" height="3.04" fill="#cacaf6"/>
<rect x="223.94" y="245.85" width="8.44" height="3.04" fill="#f4e4e8"/>
<rect x="223.94" y="248.84" width="8.44" height="3.04" fill="#f4e5e9"/>
<rect x="223.94" y="251.82" width="8.44" height="3.04" fill="#e7e3f4"/>
<rect x="223.94" y="254.81" width="8.44" height="3.04" fill="#ece8f4"/>
<rect x="232.33" y="18.80" width="8.44" height="3.04" fill="#f4dfe3"/>
<rect x="232.33" y="21.79" width="8.44" height="3.04" fill="#f4e9ed"/>
<rect x="232.33" y="24.77" width="8.44" height="3.04" fill="#f4e1e5"/>
<rect x="232.33" y="27.76" width="8.44" height="3.04" fill="#e8e4f4"/>
<rect x="232.33" y="30.75" width="8.44" height="3.04" fill="#f0e7ea"/>
<rect x="232.33" y="33.74" width="8.44" height="3.04" fill="#dfdbf4"/>
<rect x="232.33" y="36.72" width="8.44" height="3.04" fill="#c2c2f6"/>
<rect x="232.33" y="39.71" width="8.44" height="3.04" fill="#f4e3e7"/>
<rect x="232.33" y="42.70" width="8.44" height="3.04" fill="#cecef6"/>
<rect x="232.33" y="45.69" width="8.44" height="3.04" fill="#eae6f4"/>
<rect x="232.33" y="48.67" width="8.44" height="3.04" fill="#d6d6f6"/>
<rect x="232.33" y="51.66" width="8.44" height="3.04" fill="#e8e4f4"/>
<rect x="232.33" y="54.65" width="8.44" height="3.04" fill="#f4eaee"/>
<rect x="232.33" y="57.64" width="8.44" height="3.04" fill="#eae6f4"/>
<rect x="232.33" y="60.62" width="8.44" height="3.04" fill="#e7e3f4"/>
<rect x="232.33" y="63.61" width="8.44" height="3.04" fill="#c0c0f6"/>
<rect x="232.33" y="66.60" width="8.44" height="3.04" fill="#e8e4f4"/>
<rect x="232.33" y="69.59" width="8.44" height="3.04" fill="#c5c5f6"/>
<rect x="232.33" y="72.58" width="8.44" height="3.04" fill="#f0deea"/>
<rect x="232.33" y="75.56" width="8.44" height="3.04" fill="#f4d9dd"/>
<rect x="232.33" y="78.55" width="8.44" height="3.04" fill="#ebe7f4"/>
<rect x="232.33" y="81.54" width="8.44" height="3.04" fill="#e9e5f4"/>
<rect x="232.33" y="84.52" width="8.44" height="3.04" fill="#ebe7f4"/>
<rect x="232.33" y="87.51" width="8.44" height="3.04" fill="#bebef6"/>
<rect x="232.33" y="90.50" width="8.44" height="3.04" fill="#c5c5f6"/>
<rect x="232.33" y="93.49" width="8.44" height="3.04" fill="#e2def4"/>
<rect x="232.33" y="96.47" width="8.44" height="3.04" fill="#f4e7eb"/>
<rect x="232.33" y="99.46" width="8.44" height="3.04" fill="#f0dfea"/>
<rect x="232.33" y="102.45" width="8.44" height="3.04" fill="#e4e0f4"/>
<rect x="232.33" y="105.44" width="8.44" height="3.04" fill="#f4d4d8"/>
<rect x="232.33" y="108.42" width="8.44" height="3.04" fill="#e2def4"/>
<rect x="232.33" y="111.41" width="8.44" height="3.04" fill="#e0dcf4"/>
<rect x="232.33" y="114.40" width="8.44" height="3.04" fill="#f0d9ea"/>
<rect x="232.33" y="117.39" width="8.44" height="3.04" fill="#f4ecf0"/>
<rect x="232.33" y="120.37" width="8.44" height="3.04" fill="#e7e3f4"/>
<rect x="232.33" y="123.36" width="8.44" height="3.04" fill="#b8b8f2"/>
<rect x="232.33" y="126.35" width="8.44" height="3.04" fill="#f0e7ea"/>
<rect x="232.33" y="129.34" width="8.44" height="3.04" fill="#f0e8ea"/>
<rect x="232.33" y="132.32" width="8.44" height="3.04" fill="#9898f2"/>
<rect x="232.33" y="135.31" width="8.44" height="3.04" fill="#a6a6f2"/>
<rect x="232.33" y="138.30" width="8.44" height="3.04" fill="#ede9f4"/>
<rect x="232.33" y="141.29" width="8.44" height="3.04" fill="#ece8f4"/>
<rect x="232.33" y="144.28" width="8.44" height="3.04" fill="#cbcbf6"/>
<rect x="232.33" y="147.26" width="8.44" height="3.04" fill="#c8c8f6"/>
<rect x="232.33" y="150.25" width="8.44" height="3.04" fill="#b0b0f2"/>
<rect x="232.33" y="153.24" width="8.44" height="3.04" fill="#cdcdf6"/>
<rect x="232.33" y="156.22" width="8.44" height="3.04" fill="#d1d1f6"/>
<rect x="232.33" y="159.21" width="8.44" height="3.04" fill="#d4d4f6"/>
<rect x="232.33" y="162.20" width="8.44" height="3.04" fill="#f0e3ea"/>
<rect x="232.33" y="165.19" width="8.44" height="3.04" fill="#acacf6"/>
<rect x="232.33" y="168.18" width="8.44" height="3.04" fill="#e9e5f4"/>
<rect x="232.33" y="171.16" width="8.44" height="3.04" fill="#9e9ef2"/>
<rect x="232.33" y="174.15" width="8.44" height="3.04" fill="#a0a0f2"/>
<rect x="232.33" y="177.14" width="8.44" height="3.04" fill="#5959e6"/>
<rect x="232.33" y="180.12" width="8.44" height="3.04" fill="#b1b1f2"/>
<rect x="232.33" y="183.11" width="8.44" height="3.04" fill="#c0c0f2"/>
<rect x="232.33" y="186.10" width="8.44" height="3.04" fill="#bbbbf2"/>
<rect x="232.33" y="189.09" width="8.44" height="3.04" fill="#9d9df2"/>
<rect x="232.33" y="192.07" width="8.44" height="3.04" fill="#a0a0f2"/>
<rect x="232.33" y="195.06" width="8.44" height="3.04" fill="#babaf2"/>
<rect x="232.33" y="198.05" width="8.44" height="3.04" fill="#5656e5"/>
<rect x="232.33" y="201.04" width="8.44" height="3.04" fill="#c2c2f6"/>
<rect x="232.33" y="204.03" width="8.44" height="3.04" fill="#babaf6"/>
<rect x="232.33" y="207.01" width="8.44" height="3.04" fill="#b8b8f2"/>
<rect x="232.33" y="210.00" width="8.44" height="3.04" fill="#9e9ef2"/>
<rect x="232.33" y="212.99" width="8.44" height="3.04" fill="#c2c2f6"/>
<rect x="232.33" y="215.97" width="8.44" height="3.04" fill="#6c6ce4"/>
<rect x="232.33" y="218.96" width="8.44" height="3.04" fill="#adadf2"/>
<rect x="232.33" y="221.95" width="8.44" height="3.04" fill="#c8c8f6"/>
<rect x="232.33" y="224.94" width="8.44" height="3.04" fill="#7979e9"/>
<rect x="232.33" y="227.93" width="8.44" height="3.04" fill="#ccccf6"/>
<rect x="232.33" y="230.91" width="8.44" height="3.04" fill="#aeaef2"/>
<rect x="232.33" y="233.90" width="8.44" height="3.04" fill="#a6a6f2"/>
<rect x="232.33" y="236.89" width="8.44" height="3.04" fill="#acacf2"/>
<rect x="232.33" y="239.88" width="8.44" height="3.04" fill="#a4a4f2"/>
<rect x="232.33" y="242.86" width="8.44" height="3.04" fill="#aaaaf2"/>
<rect x="232.33" y="245.85" width="8.44" height="3.04" fill="#7171e6"/>
<rect x="232.33" y="248.84" width="8.44" height="3.04" fill="#b4b4f2"/>
<rect x="232.33" y="251.82" width="8.44" height="3.04" fill="#a5a5f2"/>
<rect x="232.33" y="254.81" width="8.44" height="3.04" fill="#aeaef2"/>
<rect x="240.72" y="18.80" width="8.44" height="3.04" fill="#f4e7eb"/>
<rect x="240.72" y="21.79" width="8.44" height="3.04" fill="#f4dbdf"/>
<rect x="240.72" y="24.77" width="8.44" height="3.04" fill="#f4e3e7"/>
<rect x="240.72" y="27.76" width="8.44" height="3.04" fill="#eeeaf4"/>
<rect x="240.72" y="30.75" width="8.44" height="3.04" fill="#f4dade"/>
<rect x="240.72" y="33.74" width="8.44" height="3.04" fill="#f4dde1"/>
<rect x="240.72" y="36.72" width="8.44" height="3.04" fill="#e6e2f4"/>
<rect x="240.72" y="39.71" width="8.44" height="3.04" fill="#ebe7f4"/>
<rect x="240.72" y="42.70" width="8.44" height="3.04" fill="#f4e6ea"/>
<rect x="240.72" y="45.69" width="8.44" height="3.04" fill="#e5e1f4"/>
<rect x="240.72" y="48.67" width="8.44" height="3.04" fill="#e9e5f4"/>
<rect x="240.72" y="51.66" width="8.44" height="3.04" fill="#f4d9dd"/>
<rect x="240.72" y="54.65" width="8.44" height="3.04" fill="#f4e0e4"/>
<rect x="240.72" y="57.64" width="8.44" height="3.04" fill="#f4dde1"/>
<rect x="240.72" y="60.62" width="8.44" height="3.04" fill="#f4dee2"/>
<rect x="240.72" y="63.61" width="8.44" height="3.04" fill="#f4d7db"/>
<rect x="240.72" y="66.60" width="8.44" height="3.04" fill="#f4e8ec"/>
<rect x="240.72" y="69.59" width="8.44" height="3.04" fill="#dfdbf4"/>
<rect x="240.72" y="72.58" width="8.44" height="3.04" fill="#f4d9dd"/>
<rect x="240.72" y="75.56" width="8.44" height="3.04" fill="#f4e1e5"/>
<rect x="240.72" y="78.55" width="8.44" height="3.04" fill="#f4d5d9"/>
<rect x="240.72" y="81.54" width="8.44" height="3.04" fill="#f4d5d9"/>
<rect x="240.72" y="84.52" width="8.44" height="3.04" fill="#f4dee2"/>
<rect x="240.72" y="87.51" width="8.44" height="3.04" fill="#e0dcf4"/>
<rect x="240.72" y="90.50" width="8.44" height="3.04" fill="#f4dee2"/>
<rect x="240.72" y="93.49" width="8.44" height="3.04" fill="#f4e2e6"/>
<rect x="240.72" y="96.47" width="8.44" height="3.04" fill="#e4e0f4"/>
<rect x="240.72" y="99.46" width="8.44" height="3.04" fill="#f2c0b8"/>
<rect x="240.72" y="102.45" width="8.44" height="3.04" fill="#f2c0b8"/>
<rect x="240.72" y="105.44" width="8.44" height="3.04" fill="#f2c0b8"/>
<rect x="240.72" y="108.42" width="8.44" height="3.04" fill="#f2c0b8"/>
<rect x="240.72" y="111.41" width="8.44" height="3.04" fill="#e6e2f4"/>
<rect x="240.72" y="114.40" width="8.44" height="3.04" fill="#f4e4e8"/>
<rect x="240.72" y="117.39" width="8.44" height="3.04" fill="#e4e0f4"/>
<rect x="240.72" y="120.37" width="8.44" height="3.04" fill="#f4eaee"/>
<rect x="240.72" y="123.36" width="8.44" height="3.04" fill="#d2d2f6"/>
<rect x="240.72" y="126.35" width="8.44" height="3.04" fill="#bbbbf6"/>
<rect x="240.72" y="129.34" width="8.44" height="3.04" fill="#d6d6f6"/>
<rect x="240.72" y="132.32" width="8.44" height="3.04" fill="#cdcdf6"/>
<rect x="240.72" y="135.31" width="8.44" height="3.04" fill="#b8b8f6"/>
<rect x="240.72" y="138.30" width="8.44" height="3.04" fill="#cfcff6"/>
<rect x="240.72" y="141.29" width="8.44" height="3.04" fill="#c8c8f6"/>
<rect x="240.72" y="144.28" width="8.44" height="3.04" fill="#c8c8f6"/>
<rect x="240.72" y="147.26" width="8.44" height="3.04" fill="#d3d3f6"/>
<rect x="240.72" y="150.25" width="8.44" height="3.04" fill="#bebef6"/>
<rect x="240.72" y="153.24" width="8.44" height="3.04" fill="#c6c6f6"/>
<rect x="240.72" y="156.22" width="8.44" height="3.04" fill="#b5b5f6"/>
<rect x="240.72" y="159.21" width="8.44" height="3.04" fill="#c9c9f6"/>
<rect x="240.72" y="162.20" width="8.44" height="3.04" fill="#c2c2f6"/>
<rect x="240.72" y="165.19" width="8.44" height="3.04" fill="#cfcff6"/>
<rect x="240.72" y="168.18" width="8.44" height="3.04" fill="#c1c1f6"/>
<rect x="240.72" y="171.16" width="8.44" height="3.04" fill="#d5d5f6"/>
<rect x="240.72" y="174.15" width="8.44" height="3.04" fill="#bebef6"/>
<rect x="240.72" y="177.14" width="8.44" height="3.04" fill="#cecef6"/>
<rect x="240.72" y="180.12" width="8.44" height="3.04" fill="#cacaf6"/>
<rect x="240.72" y="183.11" width="8.44" height="3.04" fill="#cacaf6"/>
<rect x="240.72" y="186.10" width="8.44" height="3.04" fill="#d2d2f6"/>
<rect x="240.72" y="189.09" width="8.44" height="3.04" fill="#a1a1f2"/>
<rect x="240.72" y="192.07" width="8.44" height="3.04" fill="#c9c9f6"/>
<rect x="240.72" y="195.06" width="8.44" height="3.04" fill="#d3d3f6"/>
<rect x="240.72" y="198.05" width="8.44" height="3.04" fill="#f0e8ea"/>
<rect x="240.72" y="201.04" width="8.44" height="3.04" fill="#9b9bf2"/>
<rect x="240.72" y="204.03" width="8.44" height="3.04" fill="#ede9f4"/>
<rect x="240.72" y="207.01" width="8.44" height="3.04" fill="#dedaf4"/>
<rect x="240.72" y="210.00" width="8.44" height="3.04" fill="#c0c0f6"/>
<rect x="240.72" y="212.99" width="8.44" height="3.04" fill="#d2d2f6"/>
<rect x="240.72" y="215.97" width="8.44" height="3.04" fill="#ccccf6"/>
<rect x="240.72" y="218.96" width="8.44" height="3.04" fill="#e3dff4"/>
<rect x="240.72" y="221.95" width="8.44" height="3.04" fill="#d5d5f6"/>
<rect x="240.72" y="224.94" width="8.44" height="3.04" fill="#c9c9f6"/>
<rect x="240.72" y="227.93" width="8.44" height="3.04" fill="#bdbdf6"/>
<rect x="240.72" y="230.91" width="8.44" height="3.04" fill="#aaaaf2"/>
<rect x="240.72" y="233.90" width="8.44" height="3.04" fill="#bfbff6"/>
<rect x="240.72" y="236.89" width="8.44" height="3.04" fill="#b0b0f2"/>
<rect x="240.72" y="239.88" width="8.44" height="3.04" fill="#e7e3f4"/>
<rect x="240.72" y="242.86" width="8.44" height="3.04" fill="#e1ddf4"/>
<rect x="240.72" y="245.85" width="8.44" height="3.04" fill="#f4cec9"/>
<rect x="240.72" y="248.84" width="8.44" height="3.04" fill="#f4dfe3"/>
<rect x="240.72" y="251.82" width="8.44" height="3.04" fill="#bbbbf6"/>
<rect x="240.72" y="254.81" width="8.44" height="3.04" fill="#f4dce0"/>
<rect x="249.11" y="18.80" width="8.44" height="3.04" fill="#f0e7ea"/>
<rect x="249.11" y="21.79" width="8.44" height="3.04" fill="#e3dff4"/>
<rect x="249.11" y="24.77" width="8.44" height="3.04" fill="#e9e5f4"/>
<rect x="249.11" y="27.76" width="8.44" height="3.04" fill="#f0dfea"/>
<rect x="249.11" y="30.75" width="8.44" height="3.04" fill="#e8e4f4"/>
<rect x="249.11" y="33.74" width="8.44" height="3.04" fill="#e6e2f4"/>
<rect x="249.11" y="36.72" width="8.44" height="3.04" fill="#e6e2f4"/>
<rect x="249.11" y="39.71" width="8.44" height="3.04" fill="#dfdbf4"/>
<rect x="249.11" y="42.70" width="8.44" height="3.04" fill="#f0e4ea"/>
<rect x="249.11" y="45.69" width="8.44" height="3.04" fill="#e9e5f4"/>
<rect x="249.11" y="48.67" width="8.44" height="3.04" fill="#e7e3f4"/>
<rect x="249.11" y="51.66" width="8.44" height="3.04" fill="#dad6f4"/>
<rect x="249.11" y="54.65" width="8.44" height="3.04" fill="#e2def4"/>
<rect x="249.11" y="57.64" width="8.44" height="3.04" fill="#f0e0ea"/>
<rect x="249.11" y="60.62" width="8.44" height="3.04" fill="#e4e0f4"/>
<rect x="249.11" y="63.61" width="8.44" height="3.04" fill="#eae6f4"/>
<rect x="249.11" y="66.60" width="8.44" height="3.04" fill="#e5e1f4"/>
<rect x="249.11" y="69.59" width="8.44" height="3.04" fill="#e7e3f4"/>
<rect x="249.11" y="72.58" width="8.44" height="3.04" fill="#e4e0f4"/>
<rect x="249.11" y="75.56" width="8.44" height="3.04" fill="#f0e1ea"/>
<rect x="249.11" y="78.55" width="8.44" height="3.04" fill="#f0e5ea"/>
<rect x="249.11" y="81.54" width="8.44" height="3.04" fill="#f0e1ea"/>
<rect x="249.11" y="84.52" width="8.44" height="3.04" fill="#ede9f4"/>
<rect x="249.11" y="87.51" width="8.44" height="3.04" fill="#e8e4f4"/>
<rect x="249.11" y="90.50" width="8.44" height="3.04" fill="#ece8f4"/>
<rect x="249.11" y="93.49" width="8.44" height="3.04" fill="#e8e4f4"/>
<rect x="249.11" y="96.47" width="8.44" height="3.04" fill="#ede9f4"/>
<rect x="249.11" y="99.46" width="8.44" height="3.04" fill="#ede9f4"/>
<rect x="249.11" y="102.45" width="8.44" height="3.04" fill="#eae6f4"/>
<rect x="249.11" y="105.44" width="8.44" height="3.04" fill="#e8e4f4"/>
<rect x="249.11" y="108.42" width="8.44" height="3.04" fill="#e8e4f4"/>
<rect x="249.11" y="111.41" width="8.44" height="3.04" fill="#f0daea"/>
<rect x="249.11" y="114.40" width="8.44" height="3.04" fill="#ddd9f4"/>
<rect x="249.11" y="117.39" width="8.44" height="3.04" fill="#e5e1f4"/>
<rect x="249.11" y="120.37" width="8.44" height="3.04" fill="#dedaf4"/>
<rect x="249.11" y="123.36" width="8.44" height="3.04" fill="#a9a9f2"/>
<rect x="249.11" y="126.35" width="8.44" height="3.04" fill="#b0b0f2"/>
<rect x="249.11" y="129.34" width="8.44" height="3.04" fill="#a7a7f2"/>
<rect x="249.11" y="132.32" width="8.44" height="3.04" fill="#aeaef2"/>
<rect x="249.11" y="135.31" width="8.44" height="3.04" fill="#a1a1f2"/>
<rect x="249.11" y="138.30" width="8.44" height="3.04" fill="#a1a1f2"/>
<rect x="249.11" y="141.29" width="8.44" height="3.04" fill="#9696f2"/>
<rect x="249.11" y="144.28" width="8.44" height="3.04" fill="#acacf2"/>
<rect x="249.11" y="147.26" width="8.44" height="3.04" fill="#ababf2"/>
<rect x="249.11" y="150.25" width="8.44" height="3.04" fill="#bdbdf2"/>
<rect x="249.11" y="153.24" width="8.44" height="3.04" fill="#d0d0f2"/>
<rect x="249.11" y="156.22" width="8.44" height="3.04" fill="#afaff2"/>
<rect x="249.11" y="159.21" width="8.44" height="3.04" fill="#8080f2"/>
<rect x="249.11" y="162.20" width="8.44" height="3.04" fill="#9999f2"/>
<rect x="249.11" y="165.19" width="8.44" height="3.04" fill="#c0c0f2"/>
<rect x="249.11" y="168.18" width="8.44" height="3.04" fill="#b3b3f2"/>
<rect x="249.11" y="171.16" width="8.44" height="3.04" fill="#a9a9f2"/>
<rect x="249.11" y="174.15" width="8.44" height="3.04" fill="#9d9df2"/>
<rect x="249.11" y="177.14" width="8.44" height="3.04" fill="#b3b3f2"/>
<rect x="249.11" y="180.12" width="8.44" height="3.04" fill="#b1b1f2"/>
<rect x="249.11" y="183.11" width="8.44" height="3.04" fill="#bdbdf2"/>
<rect x="249.11" y="186.10" width="8.44" height="3.04" fill="#c2c2f6"/>
<rect x="249.11" y="189.09" width="8.44" height="3.04" fill="#bbbbf6"/>
<rect x="249.11" y="192.07" width="8.44" height="3.04" fill="#a0a0f2"/>
<rect x="249.11" y="195.06" width="8.44" height="3.04" fill="#c9c9f6"/>
<rect x="249.11" y="198.05" width="8.44" height="3.04" fill="#e6e2f4"/>
<rect x="249.11" y="201.04" width="8.44" height="3.04" fill="#e1ddf4"/>
<rect x="249.11" y="204.03" width="8.44" height="3.04" fill="#c8c8f6"/>
<rect x="249.11" y="207.01" width="8.44" height="3.04" fill="#ede9f4"/>
<rect x="249.11" y="210.00" width="8.44" height="3.04" fill="#b7b7f2"/>
<rect x="249.11" y="212.99" width="8.44" height="3.04" fill="#d4d4f6"/>
<rect x="249.11" y="215.97" width="8.44" height="3.04" fill="#d2d2f6"/>
<rect x="249.11" y="218.96" width="8.44" height="3.04" fill="#aaaaf2"/>
<rect x="249.11" y="221.95" width="8.44" height="3.04" fill="#c6c6f2"/>
<rect x="249.11" y="224.94" width="8.44" height="3.04" fill="#9d9df2"/>
<rect x="249.11" y="227.93" width="8.44" height="3.04" fill="#8e8ef2"/>
<rect x="249.11" y="230.91" width="8.44" height="3.04" fill="#a2a2f2"/>
<rect x="249.11" y="233.90" width="8.44" height="3.04" fill="#e1ddf4"/>
<rect x="249.11" y="236.89" width="8.44" height="3.04" fill="#c7c7f6"/>
<rect x="249.11" y="239.88" width="8.44" height="3.04" fill="#f0dfea"/>
<rect x="249.11" y="242.86" width="8.44" height="3.04" fill="#dcd8f4"/>
<rect x="249.11" y="245.85" width="8.44" height="3.04" fill="#afaff2"/>
<rect x="249.11" y="248.84" width="8.44" height="3.04" fill="#e6e2f4"/>
<rect x="249.11" y="251.82" width="8.44" height="3.04" fill="#e3dff4"/>
<rect x="249.11" y="254.81" width="8.44" height="3.04" fill="#c8c8f2"/>
<line x1="190.39" y1="18.80" x2="190.39" y2="257.80" stroke="#ffffff" stroke-width="0.5" stroke-opacity="0.5"/>
<line x1="198.78" y1="18.80" x2="198.78" y2="257.80" stroke="#ffffff" stroke-width="0.5" stroke-opacity="0.5"/>
<line x1="207.17" y1="18.80" x2="207.17" y2="257.80" stroke="#ffffff" stroke-width="0.5" stroke-opacity="0.5"/>
<line x1="215.56" y1="18.80" x2="215.56" y2="257.80" stroke="#ffffff" stroke-width="0.5" stroke-opacity="0.5"/>
<line x1="223.94" y1="18.80" x2="223.94" y2="257.80" stroke="#ffffff" stroke-width="0.5" stroke-opacity="0.5"/>
<line x1="232.33" y1="18.80" x2="232.33" y2="257.80" stroke="#ffffff" stroke-width="0.5" stroke-opacity="0.5"/>
<line x1="240.72" y1="18.80" x2="240.72" y2="257.80" stroke="#ffffff" stroke-width="0.5" stroke-opacity="0.5"/>
<line x1="249.11" y1="18.80" x2="249.11" y2="257.80" stroke="#ffffff" stroke-width="0.5" stroke-opacity="0.5"/>
</g>
<rect x="181.50" y="18.80" width="77.00" height="239.00" fill="none" stroke="#b8b8c8" stroke-width="1.2"/>
<rect x="180.60" y="122.70" width="78.20" height="48.10" fill="none" stroke="#1c1c48" stroke-width="2"/>
<rect x="2.00" y="274.90" width="8.60" height="9.00" fill="#e01010" stroke="#222" stroke-width="1.1"/>
<text x="15.00" y="282.00" font-size="7.5" fill="#222" font-weight="bold" textLength="37.00" lengthAdjust="spacingAndGlyphs">Discovery</text>
<text x="4.20" y="298.40" font-size="7.5" fill="#222" font-weight="bold" textLength="69.80" lengthAdjust="spacingAndGlyphs">del(3p): 8/261(3%)</text>
<rect x="82.80" y="274.90" width="8.00" height="9.50" fill="#7010d8" stroke="#222" stroke-width="1.1"/>
<text x="96.00" y="282.00" font-size="7.5" fill="#222" font-weight="bold" textLength="53.00" lengthAdjust="spacingAndGlyphs">Pre-treatment</text>
<text x="83.70" y="298.40" font-size="7.5" fill="#222" font-weight="bold" textLength="78.80" lengthAdjust="spacingAndGlyphs">del(3p): 9/200 (4.5%)</text>
<rect x="185.90" y="274.00" width="8.70" height="9.50" fill="#f0a010" stroke="#222" stroke-width="1.1"/>
<text x="199.80" y="282.00" font-size="7.5" fill="#222" font-weight="bold" textLength="60.60" lengthAdjust="spacingAndGlyphs">“Ultra-high risk”</text>
<text x="190.80" y="298.40" font-size="7.5" fill="#222" font-weight="bold" textLength="76.20" lengthAdjust="spacingAndGlyphs">del (3p):10/110 (9%)</text>
<text x="1.30" y="341.20" font-size="17.2" fill="#000" font-weight="bold" textLength="9.90" lengthAdjust="spacingAndGlyphs" stroke="#000" stroke-width="0.5">B</text>
<rect x="27.50" y="374.3" width="237.90" height="12.5" rx="1.5" fill="#fff" stroke="#999" stroke-width="0.8"/>
<rect x="165.80" y="374.80" width="5.40" height="11.50" fill="#f0a020"/>
<rect x="171.20" y="374.80" width="11.50" height="11.50" fill="#f00000"/>
<rect x="182.70" y="374.80" width="2.30" height="11.50" fill="#3c4a3c"/>
<rect x="212.20" y="374.80" width="25.40" height="11.50" fill="#2010f0"/>
<rect x="239.50" y="374.80" width="3.50" height="11.50" fill="#333"/>
<line x1="30.20" y1="354.00" x2="30.20" y2="386.50" stroke="#aaa" stroke-width="0.7"/>
<line x1="35.50" y1="354.00" x2="35.50" y2="386.50" stroke="#aaa" stroke-width="0.7"/>
<line x1="41.70" y1="354.00" x2="41.70" y2="386.50" stroke="#aaa" stroke-width="0.7"/>
<line x1="90.40" y1="354.00" x2="90.40" y2="386.50" stroke="#aaa" stroke-width="0.7"/>
<line x1="148.50" y1="354.00" x2="148.50" y2="386.50" stroke="#aaa" stroke-width="0.7"/>
<line x1="171.20" y1="354.00" x2="171.20" y2="386.50" stroke="#aaa" stroke-width="0.7"/>
<line x1="189.20" y1="354.00" x2="189.20" y2="386.50" stroke="#aaa" stroke-width="0.7"/>
<line x1="202.40" y1="354.00" x2="202.40" y2="386.50" stroke="#aaa" stroke-width="0.7"/>
<line x1="208.60" y1="354.00" x2="208.60" y2="386.50" stroke="#aaa" stroke-width="0.7"/>
<line x1="240.60" y1="354.00" x2="240.60" y2="386.50" stroke="#aaa" stroke-width="0.7"/>
<circle cx="30.20" cy="367.00" r="1.8" fill="#fff" stroke="#5a4ad0" stroke-width="0.8"/>
<text x="31.60" y="353.50" font-size="4.0" fill="#3a3a3a" textLength="15.00" lengthAdjust="spacingAndGlyphs" transform="rotate(-90 31.60 353.50)">A88T</text>
<circle cx="35.50" cy="367.00" r="1.7" fill="#d81a22"/>
<text x="36.90" y="353.50" font-size="4.0" fill="#3a3a3a" textLength="15.00" lengthAdjust="spacingAndGlyphs" transform="rotate(-90 36.90 353.50)">D88V</text>
<circle cx="41.70" cy="367.00" r="1.8" fill="#fff" stroke="#5a4ad0" stroke-width="0.8"/>
<text x="43.10" y="353.50" font-size="4.0" fill="#3a3a3a" textLength="15.00" lengthAdjust="spacingAndGlyphs" transform="rotate(-90 43.10 353.50)">P14?L</text>
<circle cx="90.40" cy="367.00" r="1.7" fill="#24208a"/>
<text x="91.80" y="353.50" font-size="4.0" fill="#3a3a3a" textLength="15.00" lengthAdjust="spacingAndGlyphs" transform="rotate(-90 91.80 353.50)">E679K</text>
<circle cx="148.50" cy="367.00" r="1.7" fill="#d81a22"/>
<text x="149.90" y="353.50" font-size="4.0" fill="#3a3a3a" textLength="15.00" lengthAdjust="spacingAndGlyphs" transform="rotate(-90 149.90 353.50)">M1306R</text>
<circle cx="171.20" cy="367.00" r="1.8" fill="#fff" stroke="#d03040" stroke-width="0.8"/>
<text x="172.60" y="353.50" font-size="4.0" fill="#3a3a3a" textLength="15.00" lengthAdjust="spacingAndGlyphs" transform="rotate(-90 172.60 353.50)">Q1534R</text>
<circle cx="189.20" cy="367.00" r="1.7" fill="#24208a"/>
<text x="190.60" y="353.50" font-size="4.0" fill="#3a3a3a" textLength="15.00" lengthAdjust="spacingAndGlyphs" transform="rotate(-90 190.60 353.50)">M1702L</text>
<circle cx="202.40" cy="362.60" r="1.8" fill="#fff" stroke="#5a4ad0" stroke-width="0.8"/>
<text x="203.80" y="353.50" font-size="4.0" fill="#3a3a3a" textLength="15.00" lengthAdjust="spacingAndGlyphs" transform="rotate(-90 203.80 353.50)">M1488T</text>
<circle cx="208.60" cy="366.70" r="1.7" fill="#d81a22"/>
<text x="210.00" y="353.50" font-size="4.0" fill="#3a3a3a" textLength="15.00" lengthAdjust="spacingAndGlyphs" transform="rotate(-90 210.00 353.50)">E1960Q</text>
<circle cx="240.60" cy="366.70" r="1.8" fill="#fff" stroke="#5a4ad0" stroke-width="0.8"/>
<text x="242.00" y="353.50" font-size="4.0" fill="#3a3a3a" textLength="15.00" lengthAdjust="spacingAndGlyphs" transform="rotate(-90 242.00 353.50)">Q2210K</text>
<circle cx="202.4" cy="369.4" r="1.8" fill="#fff" stroke="#5a4ad0" stroke-width="0.8"/>
<line x1="27.50" y1="392.40" x2="265.40" y2="392.40" stroke="#999" stroke-width="0.6"/>
<text x="17.80" y="399.40" font-size="4.8" fill="#333" font-weight="bold">Aa</text>
<line x1="27.50" y1="392.40" x2="27.50" y2="394.00" stroke="#999" stroke-width="0.5"/>
<text x="27.50" y="399.40" font-size="4.6" fill="#777" text-anchor="middle">0</text>
<line x1="46.06" y1="392.40" x2="46.06" y2="394.00" stroke="#999" stroke-width="0.5"/>
<text x="46.06" y="399.40" font-size="4.6" fill="#777" text-anchor="middle">200</text>
<line x1="64.61" y1="392.40" x2="64.61" y2="394.00" stroke="#999" stroke-width="0.5"/>
<text x="64.61" y="399.40" font-size="4.6" fill="#777" text-anchor="middle">400</text>
<line x1="83.17" y1="392.40" x2="83.17" y2="394.00" stroke="#999" stroke-width="0.5"/>
<text x="83.17" y="399.40" font-size="4.6" fill="#777" text-anchor="middle">600</text>
<line x1="101.73" y1="392.40" x2="101.73" y2="394.00" stroke="#999" stroke-width="0.5"/>
<text x="101.73" y="399.40" font-size="4.6" fill="#777" text-anchor="middle">800</text>
<line x1="120.28" y1="392.40" x2="120.28" y2="394.00" stroke="#999" stroke-width="0.5"/>
<text x="120.28" y="399.40" font-size="4.6" fill="#777" text-anchor="middle">1000</text>
<line x1="138.84" y1="392.40" x2="138.84" y2="394.00" stroke="#999" stroke-width="0.5"/>
<text x="138.84" y="399.40" font-size="4.6" fill="#777" text-anchor="middle">1200</text>
<line x1="157.40" y1="392.40" x2="157.40" y2="394.00" stroke="#999" stroke-width="0.5"/>
<text x="157.40" y="399.40" font-size="4.6" fill="#777" text-anchor="middle">1400</text>
<line x1="175.96" y1="392.40" x2="175.96" y2="394.00" stroke="#999" stroke-width="0.5"/>
<text x="175.96" y="399.40" font-size="4.6" fill="#777" text-anchor="middle">1600</text>
<line x1="194.51" y1="392.40" x2="194.51" y2="394.00" stroke="#999" stroke-width="0.5"/>
<text x="194.51" y="399.40" font-size="4.6" fill="#777" text-anchor="middle">1800</text>
<line x1="213.07" y1="392.40" x2="213.07" y2="394.00" stroke="#999" stroke-width="0.5"/>
<text x="213.07" y="399.40" font-size="4.6" fill="#777" text-anchor="middle">2000</text>
<line x1="231.63" y1="392.40" x2="231.63" y2="394.00" stroke="#999" stroke-width="0.5"/>
<text x="231.63" y="399.40" font-size="4.6" fill="#777" text-anchor="middle">2200</text>
<line x1="250.18" y1="392.40" x2="250.18" y2="394.00" stroke="#999" stroke-width="0.5"/>
<text x="250.18" y="399.40" font-size="4.6" fill="#777" text-anchor="middle">2400</text>
<text x="266.40" y="399.40" font-size="4.6" fill="#777" text-anchor="middle">2564</text>
<text x="28.30" y="419.00" font-size="6.2" fill="#444" font-weight="bold" textLength="18.80" lengthAdjust="spacingAndGlyphs">SETD2</text>
<text x="28.30" y="423.00" font-size="3" fill="#aaa" textLength="19.00" lengthAdjust="spacingAndGlyphs">NM_014159</text>
<rect x="56.60" y="415.8" width="2.8" height="2.8" fill="#f0c020" stroke="#555" stroke-width="0.5"/>
<text x="63.40" y="419.00" font-size="5" fill="#444" font-weight="bold" textLength="9.60" lengthAdjust="spacingAndGlyphs">AWS</text>
<rect x="78.10" y="415.8" width="2.8" height="2.8" fill="#e01010" stroke="#555" stroke-width="0.5"/>
<text x="84.00" y="419.00" font-size="5" fill="#444" font-weight="bold" textLength="8.70" lengthAdjust="spacingAndGlyphs">SET</text>
<rect x="97.60" y="415.8" width="2.8" height="2.8" fill="#999" stroke="#555" stroke-width="0.5"/>
<text x="104.00" y="419.00" font-size="5" fill="#444" font-weight="bold" textLength="22.00" lengthAdjust="spacingAndGlyphs">Post-SET</text>
<rect x="129.40" y="415.8" width="2.8" height="2.8" fill="#2010c0" stroke="#555" stroke-width="0.5"/>
<text x="135.40" y="419.00" font-size="5" fill="#444" font-weight="bold" textLength="9.20" lengthAdjust="spacingAndGlyphs">LCR</text>
<rect x="150.10" y="415.8" width="2.8" height="2.8" fill="#777" stroke="#555" stroke-width="0.5"/>
<text x="156.00" y="419.00" font-size="5" fill="#444" font-weight="bold" textLength="9.40" lengthAdjust="spacingAndGlyphs">WW</text>
<text x="93.80" y="426.50" font-size="4.8" fill="#444" font-weight="bold" textLength="39.20" lengthAdjust="spacingAndGlyphs">Protein domains</text>
<text x="315.70" y="30.40" font-size="17.6" fill="#000" font-weight="bold" textLength="9.60" lengthAdjust="spacingAndGlyphs" stroke="#000" stroke-width="0.5">C</text>
<rect x="380.5" y="16.6" width="9.8" height="5.6" rx="1.5" fill="#f02030"/>
<text x="393.80" y="21.60" font-size="5.6" fill="#222" font-weight="bold" textLength="29.50" lengthAdjust="spacingAndGlyphs">Subclonal</text>
<rect x="438" y="17" width="10.5" height="5.4" rx="1.5" fill="#0000ff"/>
<text x="452.00" y="21.60" font-size="5.6" fill="#222" font-weight="bold" textLength="19.00" lengthAdjust="spacingAndGlyphs">Clonal</text>
<line x1="365.80" y1="30.70" x2="365.80" y2="108.20" stroke="#222" stroke-width="0.9"/>
<line x1="365.80" y1="108.20" x2="501.00" y2="108.20" stroke="#222" stroke-width="0.9"/>
<line x1="363.50" y1="31.20" x2="365.80" y2="31.20" stroke="#222" stroke-width="0.8"/>
<text x="362.30" y="33.20" font-size="5.8" fill="#222" font-weight="bold" text-anchor="end">100%</text>
<line x1="363.50" y1="50.45" x2="365.80" y2="50.45" stroke="#222" stroke-width="0.8"/>
<text x="362.30" y="52.45" font-size="5.8" fill="#222" font-weight="bold" text-anchor="end">75%</text>
<line x1="363.50" y1="69.70" x2="365.80" y2="69.70" stroke="#222" stroke-width="0.8"/>
<text x="362.30" y="71.70" font-size="5.8" fill="#222" font-weight="bold" text-anchor="end">50%</text>
<line x1="363.50" y1="88.95" x2="365.80" y2="88.95" stroke="#222" stroke-width="0.8"/>
<text x="362.30" y="90.95" font-size="5.8" fill="#222" font-weight="bold" text-anchor="end">25%</text>
<line x1="363.50" y1="108.20" x2="365.80" y2="108.20" stroke="#222" stroke-width="0.8"/>
<text x="362.30" y="110.20" font-size="5.8" fill="#222" font-weight="bold" text-anchor="end">0%</text>
<rect x="368.80" y="31.20" width="19.40" height="77.00" fill="#f0283a"/>
<rect x="368.80" y="38.13" width="19.40" height="70.07" fill="#0000ff"/>
<text x="370.30" y="117.20" font-size="6.4" fill="#333" textLength="16.40" lengthAdjust="spacingAndGlyphs" font-style="italic">SETD2</text>
<rect x="397.00" y="31.20" width="19.40" height="77.00" fill="#f0283a"/>
<rect x="397.00" y="61.00" width="19.40" height="47.20" fill="#0000ff"/>
<text x="395.70" y="117.20" font-size="6.4" fill="#333" textLength="22.00" lengthAdjust="spacingAndGlyphs" font-style="italic">NOTCH1</text>
<rect x="424.20" y="31.20" width="19.40" height="77.00" fill="#f0283a"/>
<rect x="424.20" y="76.71" width="19.40" height="31.49" fill="#0000ff"/>
<text x="425.65" y="117.20" font-size="6.4" fill="#333" textLength="16.50" lengthAdjust="spacingAndGlyphs" font-style="italic">SF3B1</text>
<rect x="451.20" y="31.20" width="19.40" height="77.00" fill="#f0283a"/>
<rect x="451.20" y="80.33" width="19.40" height="27.87" fill="#0000ff"/>
<text x="455.40" y="117.20" font-size="6.4" fill="#333" textLength="11.00" lengthAdjust="spacingAndGlyphs" font-style="italic">TP53</text>
<rect x="479.00" y="31.20" width="19.40" height="77.00" fill="#f0283a"/>
<rect x="479.00" y="91.26" width="19.40" height="16.94" fill="#0000ff"/>
<text x="483.20" y="117.20" font-size="6.4" fill="#333" textLength="11.00" lengthAdjust="spacingAndGlyphs" font-style="italic">ATM</text>
<line x1="364.60" y1="137.00" x2="364.60" y2="214.50" stroke="#222" stroke-width="0.9"/>
<line x1="364.60" y1="214.50" x2="503.50" y2="214.50" stroke="#222" stroke-width="0.9"/>
<line x1="362.30" y1="138.00" x2="364.60" y2="138.00" stroke="#222" stroke-width="0.8"/>
<text x="361.00" y="139.80" font-size="5.4" fill="#222" font-weight="bold" text-anchor="end">1.0</text>
<line x1="362.30" y1="153.30" x2="364.60" y2="153.30" stroke="#222" stroke-width="0.8"/>
<text x="361.00" y="155.10" font-size="5.4" fill="#222" font-weight="bold" text-anchor="end">0.8</text>
<line x1="362.30" y1="168.60" x2="364.60" y2="168.60" stroke="#222" stroke-width="0.8"/>
<text x="361.00" y="170.40" font-size="5.4" fill="#222" font-weight="bold" text-anchor="end">0.6</text>
<line x1="362.30" y1="183.90" x2="364.60" y2="183.90" stroke="#222" stroke-width="0.8"/>
<text x="361.00" y="185.70" font-size="5.4" fill="#222" font-weight="bold" text-anchor="end">0.4</text>
<line x1="362.30" y1="199.20" x2="364.60" y2="199.20" stroke="#222" stroke-width="0.8"/>
<text x="361.00" y="201.00" font-size="5.4" fill="#222" font-weight="bold" text-anchor="end">0.2</text>
<line x1="362.30" y1="214.50" x2="364.60" y2="214.50" stroke="#222" stroke-width="0.8"/>
<text x="361.00" y="216.30" font-size="5.4" fill="#222" font-weight="bold" text-anchor="end">0.0</text>
<text x="349.50" y="183.00" font-size="5.4" fill="#222" font-weight="bold" font-style="italic" transform="rotate(-90 349.50 183.00)">CCF</text>
<line x1="377.85" y1="138.00" x2="377.85" y2="138.00" stroke="#222" stroke-width="0.8"/>
<line x1="377.85" y1="140.68" x2="377.85" y2="152.53" stroke="#222" stroke-width="0.8"/>
<line x1="374.35" y1="138.00" x2="381.35" y2="138.00" stroke="#222" stroke-width="0.8"/>
<line x1="374.35" y1="152.53" x2="381.35" y2="152.53" stroke="#222" stroke-width="0.8"/>
<rect x="368.00" y="138.00" width="19.70" height="2.68" fill="none" stroke="#222" stroke-width="0.9"/>
<line x1="368.00" y1="139.15" x2="387.70" y2="139.15" stroke="#222" stroke-width="0.9"/>
<text x="369.65" y="223.80" font-size="6.4" fill="#333" textLength="16.40" lengthAdjust="spacingAndGlyphs" font-style="italic">SETD2</text>
<text x="368.75" y="231.60" font-size="6.2" fill="#222" font-weight="bold" textLength="18.20" lengthAdjust="spacingAndGlyphs">(n=10)</text>
<line x1="405.60" y1="138.00" x2="405.60" y2="138.00" stroke="#222" stroke-width="0.8"/>
<line x1="405.60" y1="167.84" x2="405.60" y2="199.20" stroke="#222" stroke-width="0.8"/>
<line x1="402.10" y1="138.00" x2="409.10" y2="138.00" stroke="#222" stroke-width="0.8"/>
<line x1="402.10" y1="199.20" x2="409.10" y2="199.20" stroke="#222" stroke-width="0.8"/>
<rect x="396.00" y="138.00" width="19.20" height="29.84" fill="none" stroke="#222" stroke-width="0.9"/>
<line x1="396.00" y1="140.30" x2="415.20" y2="140.30" stroke="#222" stroke-width="0.9"/>
<text x="394.60" y="223.80" font-size="6.4" fill="#333" textLength="22.00" lengthAdjust="spacingAndGlyphs" font-style="italic">NOTCH1</text>
<text x="396.50" y="231.60" font-size="6.2" fill="#222" font-weight="bold" textLength="18.20" lengthAdjust="spacingAndGlyphs">(n=20)</text>
<line x1="433.10" y1="138.00" x2="433.10" y2="141.82" stroke="#222" stroke-width="0.8"/>
<line x1="433.10" y1="170.90" x2="433.10" y2="199.20" stroke="#222" stroke-width="0.8"/>
<line x1="429.60" y1="138.00" x2="436.60" y2="138.00" stroke="#222" stroke-width="0.8"/>
<line x1="429.60" y1="199.20" x2="436.60" y2="199.20" stroke="#222" stroke-width="0.8"/>
<rect x="423.50" y="141.82" width="19.20" height="29.07" fill="none" stroke="#222" stroke-width="0.9"/>
<line x1="423.50" y1="150.24" x2="442.70" y2="150.24" stroke="#222" stroke-width="0.9"/>
<text x="424.85" y="223.80" font-size="6.4" fill="#333" textLength="16.50" lengthAdjust="spacingAndGlyphs" font-style="italic">SF3B1</text>
<text x="424.00" y="231.60" font-size="6.2" fill="#222" font-weight="bold" textLength="18.20" lengthAdjust="spacingAndGlyphs">(n=15)</text>
<line x1="461.05" y1="138.00" x2="461.05" y2="138.00" stroke="#222" stroke-width="0.8"/>
<line x1="461.05" y1="166.31" x2="461.05" y2="191.55" stroke="#222" stroke-width="0.8"/>
<line x1="457.55" y1="138.00" x2="464.55" y2="138.00" stroke="#222" stroke-width="0.8"/>
<line x1="457.55" y1="191.55" x2="464.55" y2="191.55" stroke="#222" stroke-width="0.8"/>
<rect x="451.70" y="138.00" width="18.70" height="28.31" fill="none" stroke="#222" stroke-width="0.9"/>
<line x1="451.70" y1="149.48" x2="470.40" y2="149.48" stroke="#222" stroke-width="0.9"/>
<text x="455.30" y="223.80" font-size="6.4" fill="#333" textLength="11.50" lengthAdjust="spacingAndGlyphs" font-style="italic">TP53</text>
<text x="451.95" y="231.60" font-size="6.2" fill="#222" font-weight="bold" textLength="18.20" lengthAdjust="spacingAndGlyphs">(n=14)</text>
<line x1="488.55" y1="141.82" x2="488.55" y2="146.41" stroke="#222" stroke-width="0.8"/>
<line x1="488.55" y1="176.25" x2="488.55" y2="205.32" stroke="#222" stroke-width="0.8"/>
<line x1="485.05" y1="141.82" x2="492.05" y2="141.82" stroke="#222" stroke-width="0.8"/>
<line x1="485.05" y1="205.32" x2="492.05" y2="205.32" stroke="#222" stroke-width="0.8"/>
<rect x="479.20" y="146.41" width="18.70" height="29.84" fill="none" stroke="#222" stroke-width="0.9"/>
<line x1="479.20" y1="155.59" x2="497.90" y2="155.59" stroke="#222" stroke-width="0.9"/>
<text x="482.80" y="223.80" font-size="6.4" fill="#333" textLength="11.50" lengthAdjust="spacingAndGlyphs" font-style="italic">ATM</text>
<text x="479.45" y="231.60" font-size="6.2" fill="#222" font-weight="bold" textLength="18.20" lengthAdjust="spacingAndGlyphs">(n=14)</text>
<circle cx="376.54" cy="138.00" r="0.9" fill="#222"/>
<circle cx="378.07" cy="138.00" r="0.9" fill="#222"/>
<circle cx="377.20" cy="138.00" r="0.9" fill="#222"/>
<circle cx="378.37" cy="138.00" r="0.9" fill="#222"/>
<circle cx="378.48" cy="138.00" r="0.9" fill="#222"/>
<circle cx="375.68" cy="138.00" r="0.9" fill="#222"/>
<circle cx="375.42" cy="138.00" r="0.9" fill="#222"/>
<circle cx="379.54" cy="138.00" r="0.9" fill="#222"/>
<circle cx="376.65" cy="138.76" r="0.9" fill="#222"/>
<circle cx="376.52" cy="139.53" r="0.9" fill="#222"/>
<circle cx="408.08" cy="138.00" r="0.9" fill="#222"/>
<circle cx="405.45" cy="138.00" r="0.9" fill="#222"/>
<circle cx="407.28" cy="138.00" r="0.9" fill="#222"/>
<circle cx="405.48" cy="138.00" r="0.9" fill="#222"/>
<circle cx="406.30" cy="138.00" r="0.9" fill="#222"/>
<circle cx="403.85" cy="138.00" r="0.9" fill="#222"/>
<circle cx="406.27" cy="141.82" r="0.9" fill="#222"/>
<circle cx="407.44" cy="145.65" r="0.9" fill="#222"/>
<circle cx="405.72" cy="149.48" r="0.9" fill="#222"/>
<circle cx="406.81" cy="153.30" r="0.9" fill="#222"/>
<circle cx="406.46" cy="139.53" r="0.9" fill="#222"/>
<circle cx="403.42" cy="141.06" r="0.9" fill="#222"/>
<circle cx="406.89" cy="143.35" r="0.9" fill="#222"/>
<circle cx="406.06" cy="180.07" r="0.9" fill="#222"/>
<circle cx="404.61" cy="182.37" r="0.9" fill="#222"/>
<circle cx="403.26" cy="172.43" r="0.9" fill="#222"/>
<circle cx="407.43" cy="170.13" r="0.9" fill="#222"/>
<circle cx="405.46" cy="191.55" r="0.9" fill="#222"/>
<circle cx="406.69" cy="198.44" r="0.9" fill="#222"/>
<circle cx="407.49" cy="139.53" r="0.9" fill="#222"/>
<circle cx="434.17" cy="138.00" r="0.9" fill="#222"/>
<circle cx="435.21" cy="138.00" r="0.9" fill="#222"/>
<circle cx="432.57" cy="139.53" r="0.9" fill="#222"/>
<circle cx="434.60" cy="141.82" r="0.9" fill="#222"/>
<circle cx="432.82" cy="145.65" r="0.9" fill="#222"/>
<circle cx="435.28" cy="149.48" r="0.9" fill="#222"/>
<circle cx="434.99" cy="151.00" r="0.9" fill="#222"/>
<circle cx="431.09" cy="162.48" r="0.9" fill="#222"/>
<circle cx="431.28" cy="164.78" r="0.9" fill="#222"/>
<circle cx="431.68" cy="167.07" r="0.9" fill="#222"/>
<circle cx="435.43" cy="168.60" r="0.9" fill="#222"/>
<circle cx="432.78" cy="170.13" r="0.9" fill="#222"/>
<circle cx="433.73" cy="172.43" r="0.9" fill="#222"/>
<circle cx="432.11" cy="191.55" r="0.9" fill="#222"/>
<circle cx="433.14" cy="199.20" r="0.9" fill="#222"/>
<circle cx="460.48" cy="138.00" r="0.9" fill="#222"/>
<circle cx="460.30" cy="138.00" r="0.9" fill="#222"/>
<circle cx="461.48" cy="138.00" r="0.9" fill="#222"/>
<circle cx="461.47" cy="144.12" r="0.9" fill="#222"/>
<circle cx="463.07" cy="149.48" r="0.9" fill="#222"/>
<circle cx="461.96" cy="164.01" r="0.9" fill="#222"/>
<circle cx="463.19" cy="165.54" r="0.9" fill="#222"/>
<circle cx="462.83" cy="167.07" r="0.9" fill="#222"/>
<circle cx="463.50" cy="183.90" r="0.9" fill="#222"/>
<circle cx="461.91" cy="187.72" r="0.9" fill="#222"/>
<circle cx="459.37" cy="191.55" r="0.9" fill="#222"/>
<circle cx="462.85" cy="138.00" r="0.9" fill="#222"/>
<circle cx="463.37" cy="139.53" r="0.9" fill="#222"/>
<circle cx="463.07" cy="160.95" r="0.9" fill="#222"/>
<circle cx="488.90" cy="141.82" r="0.9" fill="#222"/>
<circle cx="489.62" cy="143.35" r="0.9" fill="#222"/>
<circle cx="487.11" cy="145.65" r="0.9" fill="#222"/>
<circle cx="490.21" cy="147.18" r="0.9" fill="#222"/>
<circle cx="488.92" cy="149.48" r="0.9" fill="#222"/>
<circle cx="487.47" cy="160.95" r="0.9" fill="#222"/>
<circle cx="486.37" cy="168.60" r="0.9" fill="#222"/>
<circle cx="490.32" cy="172.43" r="0.9" fill="#222"/>
<circle cx="491.00" cy="174.72" r="0.9" fill="#222"/>
<circle cx="486.49" cy="180.07" r="0.9" fill="#222"/>
<circle cx="490.05" cy="191.55" r="0.9" fill="#222"/>
<circle cx="488.10" cy="199.20" r="0.9" fill="#222"/>
<circle cx="486.80" cy="205.32" r="0.9" fill="#222"/>
<circle cx="487.52" cy="145.65" r="0.9" fill="#222"/>
<text x="316.20" y="264.60" font-size="16.2" fill="#000" font-weight="bold" textLength="10.40" lengthAdjust="spacingAndGlyphs" stroke="#000" stroke-width="0.5">D</text>
<rect x="326.7" y="270.3" width="192.50" height="152.70" fill="none" stroke="#aaa" stroke-width="0.8"/>
<line x1="323.70" y1="415.80" x2="326.70" y2="415.80" stroke="#888" stroke-width="0.7"/>
<text x="311.30" y="418.20" font-size="7" fill="#333" font-weight="bold" textLength="9.80" lengthAdjust="spacingAndGlyphs">0.0</text>
<line x1="323.70" y1="388.28" x2="326.70" y2="388.28" stroke="#888" stroke-width="0.7"/>
<text x="311.30" y="390.68" font-size="7" fill="#333" font-weight="bold" textLength="9.80" lengthAdjust="spacingAndGlyphs">0.2</text>
<line x1="323.70" y1="360.76" x2="326.70" y2="360.76" stroke="#888" stroke-width="0.7"/>
<text x="311.30" y="363.16" font-size="7" fill="#333" font-weight="bold" textLength="9.80" lengthAdjust="spacingAndGlyphs">0.4</text>
<line x1="323.70" y1="333.24" x2="326.70" y2="333.24" stroke="#888" stroke-width="0.7"/>
<text x="311.30" y="335.64" font-size="7" fill="#333" font-weight="bold" textLength="9.80" lengthAdjust="spacingAndGlyphs">0.6</text>
<line x1="323.70" y1="305.72" x2="326.70" y2="305.72" stroke="#888" stroke-width="0.7"/>
<text x="311.30" y="308.12" font-size="7" fill="#333" font-weight="bold" textLength="9.80" lengthAdjust="spacingAndGlyphs">0.8</text>
<line x1="323.70" y1="278.20" x2="326.70" y2="278.20" stroke="#888" stroke-width="0.7"/>
<text x="311.30" y="280.60" font-size="7" fill="#333" font-weight="bold" textLength="9.80" lengthAdjust="spacingAndGlyphs">1.0</text>
<line x1="335.70" y1="423.00" x2="335.70" y2="425.50" stroke="#888" stroke-width="0.7"/>
<text x="333.90" y="434.40" font-size="7" fill="#333" font-weight="bold" textLength="3.60" lengthAdjust="spacingAndGlyphs">0</text>
<line x1="360.60" y1="423.00" x2="360.60" y2="425.50" stroke="#888" stroke-width="0.7"/>
<text x="356.50" y="434.40" font-size="7" fill="#333" font-weight="bold" textLength="8.20" lengthAdjust="spacingAndGlyphs">50</text>
<line x1="385.50" y1="423.00" x2="385.50" y2="425.50" stroke="#888" stroke-width="0.7"/>
<text x="379.90" y="434.40" font-size="7" fill="#333" font-weight="bold" textLength="11.20" lengthAdjust="spacingAndGlyphs">100</text>
<line x1="410.40" y1="423.00" x2="410.40" y2="425.50" stroke="#888" stroke-width="0.7"/>
<text x="404.80" y="434.40" font-size="7" fill="#333" font-weight="bold" textLength="11.20" lengthAdjust="spacingAndGlyphs">150</text>
<line x1="435.30" y1="423.00" x2="435.30" y2="425.50" stroke="#888" stroke-width="0.7"/>
<text x="429.70" y="434.40" font-size="7" fill="#333" font-weight="bold" textLength="11.20" lengthAdjust="spacingAndGlyphs">200</text>
<line x1="460.20" y1="423.00" x2="460.20" y2="425.50" stroke="#888" stroke-width="0.7"/>
<text x="454.60" y="434.40" font-size="7" fill="#333" font-weight="bold" textLength="11.20" lengthAdjust="spacingAndGlyphs">250</text>
<line x1="485.10" y1="423.00" x2="485.10" y2="425.50" stroke="#888" stroke-width="0.7"/>
<text x="479.50" y="434.40" font-size="7" fill="#333" font-weight="bold" textLength="11.20" lengthAdjust="spacingAndGlyphs">300</text>
<line x1="510.00" y1="423.00" x2="510.00" y2="425.50" stroke="#888" stroke-width="0.7"/>
<text x="504.40" y="434.40" font-size="7" fill="#333" font-weight="bold" textLength="11.20" lengthAdjust="spacingAndGlyphs">350</text>
<text x="397.30" y="449.60" font-size="10" fill="#555" textLength="65.70" lengthAdjust="spacingAndGlyphs">TFS (in months)</text>
<text x="305.60" y="393.00" font-size="9.2" fill="#555" textLength="85.00" lengthAdjust="spacingAndGlyphs" transform="rotate(-90 305.60 393.00)">Survival Probability</text>
<polyline points="336.50,278.00 339.30,278.00 339.30,278.00 339.95,278.00 339.95,280.65 340.60,280.65 340.60,283.30 341.95,283.30 341.95,285.30 343.30,285.30 343.30,287.30 345.30,287.30 345.30,289.65 347.30,289.65 347.30,292.00 348.65,292.00 348.65,294.65 350.00,294.65 350.00,297.30 352.00,297.30 352.00,299.95 354.00,299.95 354.00,302.60 355.30,302.60 355.30,304.90 356.60,304.90 356.60,307.20 358.30,307.20 358.30,309.35 360.00,309.35 360.00,311.50 362.00,311.50 362.00,313.40 364.00,313.40 364.00,315.30 366.00,315.30 366.00,317.20 368.00,317.20 368.00,320.40 369.75,320.40 369.75,322.20 371.50,322.20 371.50,324.00 372.40,324.00 372.40,326.33 373.30,326.33 373.30,328.67 374.20,328.67 374.20,331.00 375.97,331.00 375.97,333.10 377.73,333.10 377.73,335.20 379.50,335.20 379.50,337.30 380.85,337.30 380.85,339.95 382.20,339.95 382.20,342.60 384.27,342.60 384.27,343.77 386.33,343.77 386.33,344.93 388.40,344.93 388.40,346.10 389.70,346.10 389.70,348.75 391.00,348.75 391.00,351.40 392.35,351.40 392.35,353.20 393.70,353.20 393.70,355.00 395.05,355.00 395.05,357.65 396.40,357.65 396.40,360.30 398.20,360.30 398.20,362.50 400.00,362.50 400.00,364.70 401.30,364.70 401.30,366.50 402.60,366.50 402.60,368.30 404.30,368.30 404.30,369.15 406.00,369.15 406.00,370.00 408.40,370.00 408.40,370.33 410.80,370.33 410.80,370.67 413.20,370.67 413.20,371.00 415.57,371.00 415.57,371.28 417.93,371.28 417.93,371.57 420.30,371.57 420.30,371.85 422.67,371.85 422.67,372.13 425.03,372.13 425.03,372.42 427.40,372.42 427.40,372.70 428.70,372.70 428.70,375.35 430.00,375.35 430.00,378.00 430.50,378.00 430.50,379.65 431.00,379.65 431.00,381.30 433.50,381.30 433.50,382.40 436.00,382.40 436.00,383.50 438.33,383.50 438.33,384.67 440.67,384.67 440.67,385.83 443.00,385.83 443.00,387.00 445.18,387.00 445.18,388.25 447.35,388.25 447.35,389.50 449.52,389.50 449.52,390.75 451.70,390.75 451.70,392.00 453.88,392.00 453.88,392.85 456.05,392.85 456.05,393.70 458.22,393.70 458.22,394.55 460.40,394.55 460.40,395.40 500.60,395.40" fill="none" stroke="#2d5e45" stroke-width="1.1"/>
<circle cx="463" cy="395.4" r="1.1" fill="#1e4a34"/>
<circle cx="470.5" cy="395.4" r="1.1" fill="#1e4a34"/>
<circle cx="483" cy="395.4" r="1.1" fill="#1e4a34"/>
<circle cx="494" cy="395.4" r="1.1" fill="#1e4a34"/>
<circle cx="500" cy="395.4" r="1.1" fill="#1e4a34"/>
<circle cx="340.60" cy="283.30" r="0.9" fill="#1e4a34"/>
<circle cx="348.65" cy="292.00" r="0.9" fill="#1e4a34"/>
<circle cx="355.30" cy="304.90" r="0.9" fill="#1e4a34"/>
<circle cx="364.00" cy="313.40" r="0.9" fill="#1e4a34"/>
<circle cx="371.50" cy="324.00" r="0.9" fill="#1e4a34"/>
<circle cx="377.73" cy="333.10" r="0.9" fill="#1e4a34"/>
<circle cx="384.27" cy="343.77" r="0.9" fill="#1e4a34"/>
<circle cx="392.35" cy="351.40" r="0.9" fill="#1e4a34"/>
<circle cx="398.20" cy="362.50" r="0.9" fill="#1e4a34"/>
<circle cx="406.00" cy="369.15" r="0.9" fill="#1e4a34"/>
<circle cx="415.57" cy="371.28" r="0.9" fill="#1e4a34"/>
<circle cx="427.40" cy="372.42" r="0.9" fill="#1e4a34"/>
<circle cx="431.00" cy="381.30" r="0.9" fill="#1e4a34"/>
<circle cx="443.00" cy="385.83" r="0.9" fill="#1e4a34"/>
<circle cx="451.70" cy="392.00" r="0.9" fill="#1e4a34"/>
<polyline points="337.50,278.00 338.50,278.00 338.50,287.00 344.20,287.00 344.20,317.00 367.30,317.00 367.30,331.50 372.10,331.50 372.10,356.30 384.60,356.30 384.60,375.60 402.90,375.60 402.90,395.80 419.20,395.80 419.20,414.00" fill="none" stroke="#666" stroke-width="1.0" stroke-dasharray="1.2 1"/>
<polyline points="336.50,278.00 336.50,300.70 337.90,300.70 337.90,316.00 339.40,316.00 339.40,346.70 343.30,346.70 343.30,375.60 349.00,375.60 349.00,386.00 352.90,386.00 352.90,395.40 360.60,395.40 360.60,405.40 389.40,405.40 389.40,413.00" fill="none" stroke="#c02838" stroke-width="1.1"/>
<polyline points="336.30,278.00 336.30,300.70 342.70,300.70 342.70,322.80 357.70,322.80 357.70,346.70 366.90,346.70 366.90,368.80 374.00,368.80 374.00,392.00 380.80,392.00 380.80,415.50" fill="none" stroke="#3a3a8a" stroke-width="1.1"/>
<text x="390.60" y="415.30" font-size="7.2" fill="#c02838" textLength="24.70" lengthAdjust="spacingAndGlyphs" font-style="italic">TP53 ab.</text>
<text x="356.60" y="422.30" font-size="7.2" fill="#3a3a8a" textLength="27.00" lengthAdjust="spacingAndGlyphs" font-style="italic">SETD2 del</text>
<text x="422.00" y="415.30" font-size="7.2" fill="#444" textLength="34.00" lengthAdjust="spacingAndGlyphs" font-style="italic">SETD2 mut</text>
<text x="474.00" y="389.80" font-size="7.2" fill="#444" textLength="27.00" lengthAdjust="spacingAndGlyphs" font-style="italic">Wildtype</text>
<text x="425.40" y="279.60" font-size="6.4" textLength="90" lengthAdjust="spacingAndGlyphs" fill="#3a3a6a"><tspan fill="#b03040" font-style="italic">TP53</tspan><tspan fill="#b03040"> ab.</tspan><tspan fill="#3a3a7a"> vs. Wildtype, p &lt; .001</tspan></text>
<text x="423.00" y="287.90" font-size="6.4" textLength="92.4" lengthAdjust="spacingAndGlyphs" fill="#3a3a6a"><tspan fill="#3a3a7a" font-style="italic">SETD2</tspan><tspan fill="#3a3a7a"> del vs. Wildtype, p = .004</tspan></text>
<text x="425.00" y="296.90" font-size="6.4" textLength="90.4" lengthAdjust="spacingAndGlyphs" fill="#3a3a6a"><tspan fill="#3a3a7a" font-style="italic">SETD2</tspan><tspan fill="#3a3a7a"> del vs. </tspan><tspan fill="#b03040" font-style="italic">TP53</tspan><tspan fill="#b03040"> ab.</tspan><tspan fill="#3a3a7a">, p = .218</tspan></text>
<text x="419.60" y="305.20" font-size="6.4" textLength="95.8" lengthAdjust="spacingAndGlyphs" fill="#3a3a6a"><tspan fill="#3a3a7a" font-style="italic">SETD2</tspan><tspan fill="#3a3a7a"> mut vs. Wildtype, p = .122</tspan></text>
<text x="422.00" y="314.30" font-size="6.4" textLength="93.4" lengthAdjust="spacingAndGlyphs" fill="#3a3a6a"><tspan fill="#3a3a7a" font-style="italic">SETD2</tspan><tspan fill="#3a3a7a"> mut vs. </tspan><tspan fill="#b03040" font-style="italic">TP53</tspan><tspan fill="#b03040"> ab.</tspan><tspan fill="#3a3a7a">, p = .010</tspan></text>
</svg>
</body></html>
